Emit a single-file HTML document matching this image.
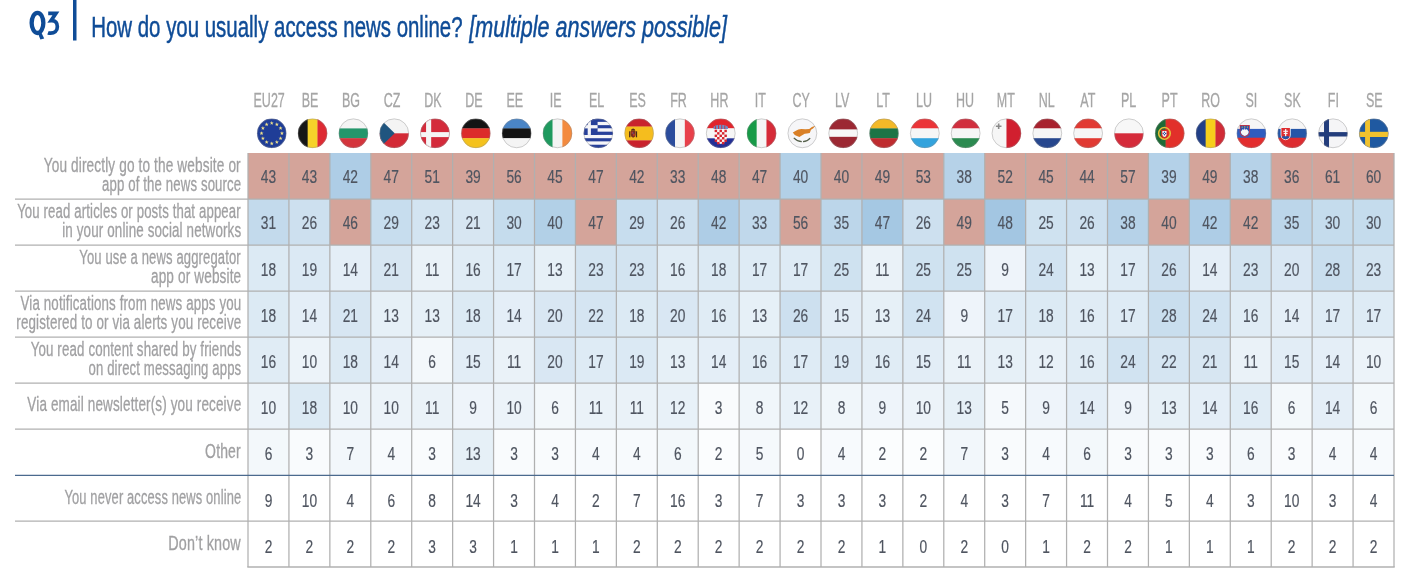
<!DOCTYPE html>
<html><head><meta charset="utf-8"><style>
html,body{margin:0;padding:0;background:#fff;}
body{width:1413px;height:576px;overflow:hidden;position:relative;font-family:"Liberation Sans", sans-serif;}
svg{position:absolute;left:0;top:0;will-change:transform;}
</style></head><body>
<svg width="1413" height="576" viewBox="0 0 1413 576" font-family='"Liberation Sans", sans-serif'>

<defs><clipPath id="fc"><circle cx="0" cy="0" r="14.7"/></clipPath></defs>
<ellipse cx="37.5" cy="22.9" rx="5.85" ry="10.1" fill="none" stroke="#0f4c97" stroke-width="4.3"/>
<path d="M37.6,32.6 L41.2,32.2 L44.2,38.4 L40.4,39.4 Z" fill="#0f4c97"/>
<path d="M48.2,13.45 H55.9 L51.0,20.7 C55.9,20.3 57.35,23.4 57.35,26.7 C57.35,31.2 54.3,33.1 50.6,33.1 C49.6,33.1 48.7,33.0 48.0,32.7" fill="none" stroke="#0f4c97" stroke-width="3.7" stroke-linejoin="miter" stroke-miterlimit="6"/>
<rect x="73" y="0" width="3.5" height="40.5" fill="#0f4c97"/>
<text transform="translate(91.2,37.4) scale(0.6905,1)" font-size="29.6" fill="#0f4c97" stroke="#0f4c97" stroke-width="0.5">How do you usually access news online?</text>
<text transform="translate(469.3,37.4) scale(0.729,1)" font-size="29.6" font-style="italic" fill="#0f4c97" stroke="#0f4c97" stroke-width="0.5">[multiple answers possible]</text>
<rect x="248.00" y="153.00" width="40.98" height="46.05" fill="#d4a49a"/>
<rect x="288.93" y="153.00" width="40.98" height="46.05" fill="#d4a49a"/>
<rect x="329.86" y="153.00" width="40.98" height="46.05" fill="#aecde6"/>
<rect x="370.79" y="153.00" width="40.98" height="46.05" fill="#d4a49a"/>
<rect x="411.71" y="153.00" width="40.98" height="46.05" fill="#d4a49a"/>
<rect x="452.64" y="153.00" width="40.98" height="46.05" fill="#d4a49a"/>
<rect x="493.57" y="153.00" width="40.98" height="46.05" fill="#d4a49a"/>
<rect x="534.50" y="153.00" width="40.98" height="46.05" fill="#d4a49a"/>
<rect x="575.43" y="153.00" width="40.98" height="46.05" fill="#d4a49a"/>
<rect x="616.36" y="153.00" width="40.98" height="46.05" fill="#d4a49a"/>
<rect x="657.29" y="153.00" width="40.98" height="46.05" fill="#d4a49a"/>
<rect x="698.21" y="153.00" width="40.98" height="46.05" fill="#d4a49a"/>
<rect x="739.14" y="153.00" width="40.98" height="46.05" fill="#d4a49a"/>
<rect x="780.07" y="153.00" width="40.98" height="46.05" fill="#b2d0e7"/>
<rect x="821.00" y="153.00" width="40.98" height="46.05" fill="#d4a49a"/>
<rect x="861.93" y="153.00" width="40.98" height="46.05" fill="#d4a49a"/>
<rect x="902.86" y="153.00" width="40.98" height="46.05" fill="#d4a49a"/>
<rect x="943.79" y="153.00" width="40.98" height="46.05" fill="#b6d2e8"/>
<rect x="984.71" y="153.00" width="40.98" height="46.05" fill="#d4a49a"/>
<rect x="1025.64" y="153.00" width="40.98" height="46.05" fill="#d4a49a"/>
<rect x="1066.57" y="153.00" width="40.98" height="46.05" fill="#d4a49a"/>
<rect x="1107.50" y="153.00" width="40.98" height="46.05" fill="#d4a49a"/>
<rect x="1148.43" y="153.00" width="40.98" height="46.05" fill="#b4d1e8"/>
<rect x="1189.36" y="153.00" width="40.98" height="46.05" fill="#d4a49a"/>
<rect x="1230.29" y="153.00" width="40.98" height="46.05" fill="#b6d2e8"/>
<rect x="1271.21" y="153.00" width="40.98" height="46.05" fill="#d4a49a"/>
<rect x="1312.14" y="153.00" width="40.98" height="46.05" fill="#d4a49a"/>
<rect x="1353.07" y="153.00" width="40.98" height="46.05" fill="#d4a49a"/>
<rect x="248.00" y="199.00" width="40.98" height="46.05" fill="#c3daec"/>
<rect x="288.93" y="199.00" width="40.98" height="46.05" fill="#cde0ef"/>
<rect x="329.86" y="199.00" width="40.98" height="46.05" fill="#d4a49a"/>
<rect x="370.79" y="199.00" width="40.98" height="46.05" fill="#c7ddee"/>
<rect x="411.71" y="199.00" width="40.98" height="46.05" fill="#d3e4f1"/>
<rect x="452.64" y="199.00" width="40.98" height="46.05" fill="#d7e6f2"/>
<rect x="493.57" y="199.00" width="40.98" height="46.05" fill="#c5dced"/>
<rect x="534.50" y="199.00" width="40.98" height="46.05" fill="#b2d0e7"/>
<rect x="575.43" y="199.00" width="40.98" height="46.05" fill="#d4a49a"/>
<rect x="616.36" y="199.00" width="40.98" height="46.05" fill="#c7ddee"/>
<rect x="657.29" y="199.00" width="40.98" height="46.05" fill="#cde0ef"/>
<rect x="698.21" y="199.00" width="40.98" height="46.05" fill="#aecde6"/>
<rect x="739.14" y="199.00" width="40.98" height="46.05" fill="#c0d8eb"/>
<rect x="780.07" y="199.00" width="40.98" height="46.05" fill="#d4a49a"/>
<rect x="821.00" y="199.00" width="40.98" height="46.05" fill="#bcd6ea"/>
<rect x="861.93" y="199.00" width="40.98" height="46.05" fill="#a5c8e3"/>
<rect x="902.86" y="199.00" width="40.98" height="46.05" fill="#cde0ef"/>
<rect x="943.79" y="199.00" width="40.98" height="46.05" fill="#d4a49a"/>
<rect x="984.71" y="199.00" width="40.98" height="46.05" fill="#a3c6e2"/>
<rect x="1025.64" y="199.00" width="40.98" height="46.05" fill="#cfe2f0"/>
<rect x="1066.57" y="199.00" width="40.98" height="46.05" fill="#cde0ef"/>
<rect x="1107.50" y="199.00" width="40.98" height="46.05" fill="#b6d2e8"/>
<rect x="1148.43" y="199.00" width="40.98" height="46.05" fill="#d4a49a"/>
<rect x="1189.36" y="199.00" width="40.98" height="46.05" fill="#aecde6"/>
<rect x="1230.29" y="199.00" width="40.98" height="46.05" fill="#d4a49a"/>
<rect x="1271.21" y="199.00" width="40.98" height="46.05" fill="#bcd6ea"/>
<rect x="1312.14" y="199.00" width="40.98" height="46.05" fill="#c5dced"/>
<rect x="1353.07" y="199.00" width="40.98" height="46.05" fill="#c5dced"/>
<rect x="248.00" y="245.00" width="40.98" height="46.05" fill="#dceaf4"/>
<rect x="288.93" y="245.00" width="40.98" height="46.05" fill="#dbe9f4"/>
<rect x="329.86" y="245.00" width="40.98" height="46.05" fill="#e4eef7"/>
<rect x="370.79" y="245.00" width="40.98" height="46.05" fill="#d7e6f2"/>
<rect x="411.71" y="245.00" width="40.98" height="46.05" fill="#eaf2f8"/>
<rect x="452.64" y="245.00" width="40.98" height="46.05" fill="#e0ecf5"/>
<rect x="493.57" y="245.00" width="40.98" height="46.05" fill="#deebf5"/>
<rect x="534.50" y="245.00" width="40.98" height="46.05" fill="#e6f0f7"/>
<rect x="575.43" y="245.00" width="40.98" height="46.05" fill="#d3e4f1"/>
<rect x="616.36" y="245.00" width="40.98" height="46.05" fill="#d3e4f1"/>
<rect x="657.29" y="245.00" width="40.98" height="46.05" fill="#e0ecf5"/>
<rect x="698.21" y="245.00" width="40.98" height="46.05" fill="#dceaf4"/>
<rect x="739.14" y="245.00" width="40.98" height="46.05" fill="#deebf5"/>
<rect x="780.07" y="245.00" width="40.98" height="46.05" fill="#deebf5"/>
<rect x="821.00" y="245.00" width="40.98" height="46.05" fill="#cfe2f0"/>
<rect x="861.93" y="245.00" width="40.98" height="46.05" fill="#eaf2f8"/>
<rect x="902.86" y="245.00" width="40.98" height="46.05" fill="#cfe2f0"/>
<rect x="943.79" y="245.00" width="40.98" height="46.05" fill="#cfe2f0"/>
<rect x="984.71" y="245.00" width="40.98" height="46.05" fill="#eef4fa"/>
<rect x="1025.64" y="245.00" width="40.98" height="46.05" fill="#d1e3f1"/>
<rect x="1066.57" y="245.00" width="40.98" height="46.05" fill="#e6f0f7"/>
<rect x="1107.50" y="245.00" width="40.98" height="46.05" fill="#deebf5"/>
<rect x="1148.43" y="245.00" width="40.98" height="46.05" fill="#cde0ef"/>
<rect x="1189.36" y="245.00" width="40.98" height="46.05" fill="#e4eef7"/>
<rect x="1230.29" y="245.00" width="40.98" height="46.05" fill="#d3e4f1"/>
<rect x="1271.21" y="245.00" width="40.98" height="46.05" fill="#d9e7f3"/>
<rect x="1312.14" y="245.00" width="40.98" height="46.05" fill="#c9deee"/>
<rect x="1353.07" y="245.00" width="40.98" height="46.05" fill="#d3e4f1"/>
<rect x="248.00" y="291.00" width="40.98" height="46.05" fill="#dceaf4"/>
<rect x="288.93" y="291.00" width="40.98" height="46.05" fill="#e4eef7"/>
<rect x="329.86" y="291.00" width="40.98" height="46.05" fill="#d7e6f2"/>
<rect x="370.79" y="291.00" width="40.98" height="46.05" fill="#e6f0f7"/>
<rect x="411.71" y="291.00" width="40.98" height="46.05" fill="#e6f0f7"/>
<rect x="452.64" y="291.00" width="40.98" height="46.05" fill="#dceaf4"/>
<rect x="493.57" y="291.00" width="40.98" height="46.05" fill="#e4eef7"/>
<rect x="534.50" y="291.00" width="40.98" height="46.05" fill="#d9e7f3"/>
<rect x="575.43" y="291.00" width="40.98" height="46.05" fill="#d5e5f2"/>
<rect x="616.36" y="291.00" width="40.98" height="46.05" fill="#dceaf4"/>
<rect x="657.29" y="291.00" width="40.98" height="46.05" fill="#d9e7f3"/>
<rect x="698.21" y="291.00" width="40.98" height="46.05" fill="#e0ecf5"/>
<rect x="739.14" y="291.00" width="40.98" height="46.05" fill="#e6f0f7"/>
<rect x="780.07" y="291.00" width="40.98" height="46.05" fill="#cde0ef"/>
<rect x="821.00" y="291.00" width="40.98" height="46.05" fill="#e2edf6"/>
<rect x="861.93" y="291.00" width="40.98" height="46.05" fill="#e6f0f7"/>
<rect x="902.86" y="291.00" width="40.98" height="46.05" fill="#d1e3f1"/>
<rect x="943.79" y="291.00" width="40.98" height="46.05" fill="#eef4fa"/>
<rect x="984.71" y="291.00" width="40.98" height="46.05" fill="#deebf5"/>
<rect x="1025.64" y="291.00" width="40.98" height="46.05" fill="#dceaf4"/>
<rect x="1066.57" y="291.00" width="40.98" height="46.05" fill="#e0ecf5"/>
<rect x="1107.50" y="291.00" width="40.98" height="46.05" fill="#deebf5"/>
<rect x="1148.43" y="291.00" width="40.98" height="46.05" fill="#c9deee"/>
<rect x="1189.36" y="291.00" width="40.98" height="46.05" fill="#d1e3f1"/>
<rect x="1230.29" y="291.00" width="40.98" height="46.05" fill="#e0ecf5"/>
<rect x="1271.21" y="291.00" width="40.98" height="46.05" fill="#e4eef7"/>
<rect x="1312.14" y="291.00" width="40.98" height="46.05" fill="#deebf5"/>
<rect x="1353.07" y="291.00" width="40.98" height="46.05" fill="#deebf5"/>
<rect x="248.00" y="337.00" width="40.98" height="46.05" fill="#e0ecf5"/>
<rect x="288.93" y="337.00" width="40.98" height="46.05" fill="#ecf3f9"/>
<rect x="329.86" y="337.00" width="40.98" height="46.05" fill="#dceaf4"/>
<rect x="370.79" y="337.00" width="40.98" height="46.05" fill="#e4eef7"/>
<rect x="411.71" y="337.00" width="40.98" height="46.05" fill="#f3f8fb"/>
<rect x="452.64" y="337.00" width="40.98" height="46.05" fill="#e2edf6"/>
<rect x="493.57" y="337.00" width="40.98" height="46.05" fill="#eaf2f8"/>
<rect x="534.50" y="337.00" width="40.98" height="46.05" fill="#d9e7f3"/>
<rect x="575.43" y="337.00" width="40.98" height="46.05" fill="#deebf5"/>
<rect x="616.36" y="337.00" width="40.98" height="46.05" fill="#dbe9f4"/>
<rect x="657.29" y="337.00" width="40.98" height="46.05" fill="#e6f0f7"/>
<rect x="698.21" y="337.00" width="40.98" height="46.05" fill="#e4eef7"/>
<rect x="739.14" y="337.00" width="40.98" height="46.05" fill="#e0ecf5"/>
<rect x="780.07" y="337.00" width="40.98" height="46.05" fill="#deebf5"/>
<rect x="821.00" y="337.00" width="40.98" height="46.05" fill="#dbe9f4"/>
<rect x="861.93" y="337.00" width="40.98" height="46.05" fill="#e0ecf5"/>
<rect x="902.86" y="337.00" width="40.98" height="46.05" fill="#e2edf6"/>
<rect x="943.79" y="337.00" width="40.98" height="46.05" fill="#eaf2f8"/>
<rect x="984.71" y="337.00" width="40.98" height="46.05" fill="#e6f0f7"/>
<rect x="1025.64" y="337.00" width="40.98" height="46.05" fill="#e8f1f8"/>
<rect x="1066.57" y="337.00" width="40.98" height="46.05" fill="#e0ecf5"/>
<rect x="1107.50" y="337.00" width="40.98" height="46.05" fill="#d1e3f1"/>
<rect x="1148.43" y="337.00" width="40.98" height="46.05" fill="#d5e5f2"/>
<rect x="1189.36" y="337.00" width="40.98" height="46.05" fill="#d7e6f2"/>
<rect x="1230.29" y="337.00" width="40.98" height="46.05" fill="#eaf2f8"/>
<rect x="1271.21" y="337.00" width="40.98" height="46.05" fill="#e2edf6"/>
<rect x="1312.14" y="337.00" width="40.98" height="46.05" fill="#e4eef7"/>
<rect x="1353.07" y="337.00" width="40.98" height="46.05" fill="#ecf3f9"/>
<rect x="248.00" y="383.00" width="40.98" height="46.05" fill="#ecf3f9"/>
<rect x="288.93" y="383.00" width="40.98" height="46.05" fill="#dceaf4"/>
<rect x="329.86" y="383.00" width="40.98" height="46.05" fill="#ecf3f9"/>
<rect x="370.79" y="383.00" width="40.98" height="46.05" fill="#ecf3f9"/>
<rect x="411.71" y="383.00" width="40.98" height="46.05" fill="#eaf2f8"/>
<rect x="452.64" y="383.00" width="40.98" height="46.05" fill="#eef4fa"/>
<rect x="493.57" y="383.00" width="40.98" height="46.05" fill="#ecf3f9"/>
<rect x="534.50" y="383.00" width="40.98" height="46.05" fill="#f3f8fb"/>
<rect x="575.43" y="383.00" width="40.98" height="46.05" fill="#eaf2f8"/>
<rect x="616.36" y="383.00" width="40.98" height="46.05" fill="#eaf2f8"/>
<rect x="657.29" y="383.00" width="40.98" height="46.05" fill="#e8f1f8"/>
<rect x="698.21" y="383.00" width="40.98" height="46.05" fill="#f9fbfd"/>
<rect x="739.14" y="383.00" width="40.98" height="46.05" fill="#f0f6fa"/>
<rect x="780.07" y="383.00" width="40.98" height="46.05" fill="#e8f1f8"/>
<rect x="821.00" y="383.00" width="40.98" height="46.05" fill="#f0f6fa"/>
<rect x="861.93" y="383.00" width="40.98" height="46.05" fill="#eef4fa"/>
<rect x="902.86" y="383.00" width="40.98" height="46.05" fill="#ecf3f9"/>
<rect x="943.79" y="383.00" width="40.98" height="46.05" fill="#e6f0f7"/>
<rect x="984.71" y="383.00" width="40.98" height="46.05" fill="#f5f9fc"/>
<rect x="1025.64" y="383.00" width="40.98" height="46.05" fill="#eef4fa"/>
<rect x="1066.57" y="383.00" width="40.98" height="46.05" fill="#e4eef7"/>
<rect x="1107.50" y="383.00" width="40.98" height="46.05" fill="#eef4fa"/>
<rect x="1148.43" y="383.00" width="40.98" height="46.05" fill="#e6f0f7"/>
<rect x="1189.36" y="383.00" width="40.98" height="46.05" fill="#e4eef7"/>
<rect x="1230.29" y="383.00" width="40.98" height="46.05" fill="#e0ecf5"/>
<rect x="1271.21" y="383.00" width="40.98" height="46.05" fill="#f3f8fb"/>
<rect x="1312.14" y="383.00" width="40.98" height="46.05" fill="#e4eef7"/>
<rect x="1353.07" y="383.00" width="40.98" height="46.05" fill="#f3f8fb"/>
<rect x="248.00" y="429.00" width="40.98" height="46.05" fill="#f3f8fb"/>
<rect x="288.93" y="429.00" width="40.98" height="46.05" fill="#f9fbfd"/>
<rect x="329.86" y="429.00" width="40.98" height="46.05" fill="#f2f7fb"/>
<rect x="370.79" y="429.00" width="40.98" height="46.05" fill="#f7fafd"/>
<rect x="411.71" y="429.00" width="40.98" height="46.05" fill="#f9fbfd"/>
<rect x="452.64" y="429.00" width="40.98" height="46.05" fill="#e6f0f7"/>
<rect x="493.57" y="429.00" width="40.98" height="46.05" fill="#f9fbfd"/>
<rect x="534.50" y="429.00" width="40.98" height="46.05" fill="#f9fbfd"/>
<rect x="575.43" y="429.00" width="40.98" height="46.05" fill="#f7fafd"/>
<rect x="616.36" y="429.00" width="40.98" height="46.05" fill="#f7fafd"/>
<rect x="657.29" y="429.00" width="40.98" height="46.05" fill="#f3f8fb"/>
<rect x="698.21" y="429.00" width="40.98" height="46.05" fill="#fbfdfe"/>
<rect x="739.14" y="429.00" width="40.98" height="46.05" fill="#f5f9fc"/>
<rect x="780.07" y="429.00" width="40.98" height="46.05" fill="#ffffff"/>
<rect x="821.00" y="429.00" width="40.98" height="46.05" fill="#f7fafd"/>
<rect x="861.93" y="429.00" width="40.98" height="46.05" fill="#fbfdfe"/>
<rect x="902.86" y="429.00" width="40.98" height="46.05" fill="#fbfdfe"/>
<rect x="943.79" y="429.00" width="40.98" height="46.05" fill="#f2f7fb"/>
<rect x="984.71" y="429.00" width="40.98" height="46.05" fill="#f9fbfd"/>
<rect x="1025.64" y="429.00" width="40.98" height="46.05" fill="#f7fafd"/>
<rect x="1066.57" y="429.00" width="40.98" height="46.05" fill="#f3f8fb"/>
<rect x="1107.50" y="429.00" width="40.98" height="46.05" fill="#f9fbfd"/>
<rect x="1148.43" y="429.00" width="40.98" height="46.05" fill="#f9fbfd"/>
<rect x="1189.36" y="429.00" width="40.98" height="46.05" fill="#f9fbfd"/>
<rect x="1230.29" y="429.00" width="40.98" height="46.05" fill="#f3f8fb"/>
<rect x="1271.21" y="429.00" width="40.98" height="46.05" fill="#f9fbfd"/>
<rect x="1312.14" y="429.00" width="40.98" height="46.05" fill="#f7fafd"/>
<rect x="1353.07" y="429.00" width="40.98" height="46.05" fill="#f7fafd"/>
<line x1="248.00" y1="153.0" x2="248.00" y2="567.00" stroke="#b0b0b0" stroke-width="1.25"/>
<line x1="288.93" y1="153.0" x2="288.93" y2="567.00" stroke="#b0b0b0" stroke-width="1.25"/>
<line x1="329.86" y1="153.0" x2="329.86" y2="567.00" stroke="#b0b0b0" stroke-width="1.25"/>
<line x1="370.79" y1="153.0" x2="370.79" y2="567.00" stroke="#b0b0b0" stroke-width="1.25"/>
<line x1="411.71" y1="153.0" x2="411.71" y2="567.00" stroke="#b0b0b0" stroke-width="1.25"/>
<line x1="452.64" y1="153.0" x2="452.64" y2="567.00" stroke="#b0b0b0" stroke-width="1.25"/>
<line x1="493.57" y1="153.0" x2="493.57" y2="567.00" stroke="#b0b0b0" stroke-width="1.25"/>
<line x1="534.50" y1="153.0" x2="534.50" y2="567.00" stroke="#b0b0b0" stroke-width="1.25"/>
<line x1="575.43" y1="153.0" x2="575.43" y2="567.00" stroke="#b0b0b0" stroke-width="1.25"/>
<line x1="616.36" y1="153.0" x2="616.36" y2="567.00" stroke="#b0b0b0" stroke-width="1.25"/>
<line x1="657.29" y1="153.0" x2="657.29" y2="567.00" stroke="#b0b0b0" stroke-width="1.25"/>
<line x1="698.21" y1="153.0" x2="698.21" y2="567.00" stroke="#b0b0b0" stroke-width="1.25"/>
<line x1="739.14" y1="153.0" x2="739.14" y2="567.00" stroke="#b0b0b0" stroke-width="1.25"/>
<line x1="780.07" y1="153.0" x2="780.07" y2="567.00" stroke="#b0b0b0" stroke-width="1.25"/>
<line x1="821.00" y1="153.0" x2="821.00" y2="567.00" stroke="#b0b0b0" stroke-width="1.25"/>
<line x1="861.93" y1="153.0" x2="861.93" y2="567.00" stroke="#b0b0b0" stroke-width="1.25"/>
<line x1="902.86" y1="153.0" x2="902.86" y2="567.00" stroke="#b0b0b0" stroke-width="1.25"/>
<line x1="943.79" y1="153.0" x2="943.79" y2="567.00" stroke="#b0b0b0" stroke-width="1.25"/>
<line x1="984.71" y1="153.0" x2="984.71" y2="567.00" stroke="#b0b0b0" stroke-width="1.25"/>
<line x1="1025.64" y1="153.0" x2="1025.64" y2="567.00" stroke="#b0b0b0" stroke-width="1.25"/>
<line x1="1066.57" y1="153.0" x2="1066.57" y2="567.00" stroke="#b0b0b0" stroke-width="1.25"/>
<line x1="1107.50" y1="153.0" x2="1107.50" y2="567.00" stroke="#b0b0b0" stroke-width="1.25"/>
<line x1="1148.43" y1="153.0" x2="1148.43" y2="567.00" stroke="#b0b0b0" stroke-width="1.25"/>
<line x1="1189.36" y1="153.0" x2="1189.36" y2="567.00" stroke="#b0b0b0" stroke-width="1.25"/>
<line x1="1230.29" y1="153.0" x2="1230.29" y2="567.00" stroke="#b0b0b0" stroke-width="1.25"/>
<line x1="1271.21" y1="153.0" x2="1271.21" y2="567.00" stroke="#b0b0b0" stroke-width="1.25"/>
<line x1="1312.14" y1="153.0" x2="1312.14" y2="567.00" stroke="#b0b0b0" stroke-width="1.25"/>
<line x1="1353.07" y1="153.0" x2="1353.07" y2="567.00" stroke="#b0b0b0" stroke-width="1.25"/>
<line x1="1394.00" y1="153.0" x2="1394.00" y2="567.00" stroke="#b0b0b0" stroke-width="1.25"/>
<line x1="15" y1="199.10" x2="1394.0" y2="199.10" stroke="#b0b0b0" stroke-width="1.4"/>
<line x1="15" y1="245.10" x2="1394.0" y2="245.10" stroke="#b0b0b0" stroke-width="1.4"/>
<line x1="15" y1="291.10" x2="1394.0" y2="291.10" stroke="#b0b0b0" stroke-width="1.4"/>
<line x1="15" y1="337.10" x2="1394.0" y2="337.10" stroke="#b0b0b0" stroke-width="1.4"/>
<line x1="15" y1="383.10" x2="1394.0" y2="383.10" stroke="#b0b0b0" stroke-width="1.4"/>
<line x1="15" y1="429.10" x2="1394.0" y2="429.10" stroke="#b0b0b0" stroke-width="1.4"/>
<line x1="15" y1="475.35" x2="1394.0" y2="475.35" stroke="#4b6a8e" stroke-width="1.4"/>
<line x1="15" y1="521.10" x2="1394.0" y2="521.10" stroke="#b0b0b0" stroke-width="1.4"/>
<line x1="247.3" y1="567.00" x2="1394.7" y2="567.00" stroke="#b0b0b0" stroke-width="1.4"/>
<text transform="translate(268.46,183.15) scale(0.725,1)" text-anchor="middle" font-size="19" fill="#4f5560" stroke="#4f5560" stroke-width="0.2">43</text>
<text transform="translate(309.39,183.15) scale(0.725,1)" text-anchor="middle" font-size="19" fill="#4f5560" stroke="#4f5560" stroke-width="0.2">43</text>
<text transform="translate(350.32,183.15) scale(0.725,1)" text-anchor="middle" font-size="19" fill="#4f5560" stroke="#4f5560" stroke-width="0.2">42</text>
<text transform="translate(391.25,183.15) scale(0.725,1)" text-anchor="middle" font-size="19" fill="#4f5560" stroke="#4f5560" stroke-width="0.2">47</text>
<text transform="translate(432.18,183.15) scale(0.725,1)" text-anchor="middle" font-size="19" fill="#4f5560" stroke="#4f5560" stroke-width="0.2">51</text>
<text transform="translate(473.11,183.15) scale(0.725,1)" text-anchor="middle" font-size="19" fill="#4f5560" stroke="#4f5560" stroke-width="0.2">39</text>
<text transform="translate(514.04,183.15) scale(0.725,1)" text-anchor="middle" font-size="19" fill="#4f5560" stroke="#4f5560" stroke-width="0.2">56</text>
<text transform="translate(554.96,183.15) scale(0.725,1)" text-anchor="middle" font-size="19" fill="#4f5560" stroke="#4f5560" stroke-width="0.2">45</text>
<text transform="translate(595.89,183.15) scale(0.725,1)" text-anchor="middle" font-size="19" fill="#4f5560" stroke="#4f5560" stroke-width="0.2">47</text>
<text transform="translate(636.82,183.15) scale(0.725,1)" text-anchor="middle" font-size="19" fill="#4f5560" stroke="#4f5560" stroke-width="0.2">42</text>
<text transform="translate(677.75,183.15) scale(0.725,1)" text-anchor="middle" font-size="19" fill="#4f5560" stroke="#4f5560" stroke-width="0.2">33</text>
<text transform="translate(718.68,183.15) scale(0.725,1)" text-anchor="middle" font-size="19" fill="#4f5560" stroke="#4f5560" stroke-width="0.2">48</text>
<text transform="translate(759.61,183.15) scale(0.725,1)" text-anchor="middle" font-size="19" fill="#4f5560" stroke="#4f5560" stroke-width="0.2">47</text>
<text transform="translate(800.54,183.15) scale(0.725,1)" text-anchor="middle" font-size="19" fill="#4f5560" stroke="#4f5560" stroke-width="0.2">40</text>
<text transform="translate(841.46,183.15) scale(0.725,1)" text-anchor="middle" font-size="19" fill="#4f5560" stroke="#4f5560" stroke-width="0.2">40</text>
<text transform="translate(882.39,183.15) scale(0.725,1)" text-anchor="middle" font-size="19" fill="#4f5560" stroke="#4f5560" stroke-width="0.2">49</text>
<text transform="translate(923.32,183.15) scale(0.725,1)" text-anchor="middle" font-size="19" fill="#4f5560" stroke="#4f5560" stroke-width="0.2">53</text>
<text transform="translate(964.25,183.15) scale(0.725,1)" text-anchor="middle" font-size="19" fill="#4f5560" stroke="#4f5560" stroke-width="0.2">38</text>
<text transform="translate(1005.18,183.15) scale(0.725,1)" text-anchor="middle" font-size="19" fill="#4f5560" stroke="#4f5560" stroke-width="0.2">52</text>
<text transform="translate(1046.11,183.15) scale(0.725,1)" text-anchor="middle" font-size="19" fill="#4f5560" stroke="#4f5560" stroke-width="0.2">45</text>
<text transform="translate(1087.04,183.15) scale(0.725,1)" text-anchor="middle" font-size="19" fill="#4f5560" stroke="#4f5560" stroke-width="0.2">44</text>
<text transform="translate(1127.96,183.15) scale(0.725,1)" text-anchor="middle" font-size="19" fill="#4f5560" stroke="#4f5560" stroke-width="0.2">57</text>
<text transform="translate(1168.89,183.15) scale(0.725,1)" text-anchor="middle" font-size="19" fill="#4f5560" stroke="#4f5560" stroke-width="0.2">39</text>
<text transform="translate(1209.82,183.15) scale(0.725,1)" text-anchor="middle" font-size="19" fill="#4f5560" stroke="#4f5560" stroke-width="0.2">49</text>
<text transform="translate(1250.75,183.15) scale(0.725,1)" text-anchor="middle" font-size="19" fill="#4f5560" stroke="#4f5560" stroke-width="0.2">38</text>
<text transform="translate(1291.68,183.15) scale(0.725,1)" text-anchor="middle" font-size="19" fill="#4f5560" stroke="#4f5560" stroke-width="0.2">36</text>
<text transform="translate(1332.61,183.15) scale(0.725,1)" text-anchor="middle" font-size="19" fill="#4f5560" stroke="#4f5560" stroke-width="0.2">61</text>
<text transform="translate(1373.54,183.15) scale(0.725,1)" text-anchor="middle" font-size="19" fill="#4f5560" stroke="#4f5560" stroke-width="0.2">60</text>
<text transform="translate(268.46,229.37) scale(0.725,1)" text-anchor="middle" font-size="19" fill="#4f5560" stroke="#4f5560" stroke-width="0.2">31</text>
<text transform="translate(309.39,229.37) scale(0.725,1)" text-anchor="middle" font-size="19" fill="#4f5560" stroke="#4f5560" stroke-width="0.2">26</text>
<text transform="translate(350.32,229.37) scale(0.725,1)" text-anchor="middle" font-size="19" fill="#4f5560" stroke="#4f5560" stroke-width="0.2">46</text>
<text transform="translate(391.25,229.37) scale(0.725,1)" text-anchor="middle" font-size="19" fill="#4f5560" stroke="#4f5560" stroke-width="0.2">29</text>
<text transform="translate(432.18,229.37) scale(0.725,1)" text-anchor="middle" font-size="19" fill="#4f5560" stroke="#4f5560" stroke-width="0.2">23</text>
<text transform="translate(473.11,229.37) scale(0.725,1)" text-anchor="middle" font-size="19" fill="#4f5560" stroke="#4f5560" stroke-width="0.2">21</text>
<text transform="translate(514.04,229.37) scale(0.725,1)" text-anchor="middle" font-size="19" fill="#4f5560" stroke="#4f5560" stroke-width="0.2">30</text>
<text transform="translate(554.96,229.37) scale(0.725,1)" text-anchor="middle" font-size="19" fill="#4f5560" stroke="#4f5560" stroke-width="0.2">40</text>
<text transform="translate(595.89,229.37) scale(0.725,1)" text-anchor="middle" font-size="19" fill="#4f5560" stroke="#4f5560" stroke-width="0.2">47</text>
<text transform="translate(636.82,229.37) scale(0.725,1)" text-anchor="middle" font-size="19" fill="#4f5560" stroke="#4f5560" stroke-width="0.2">29</text>
<text transform="translate(677.75,229.37) scale(0.725,1)" text-anchor="middle" font-size="19" fill="#4f5560" stroke="#4f5560" stroke-width="0.2">26</text>
<text transform="translate(718.68,229.37) scale(0.725,1)" text-anchor="middle" font-size="19" fill="#4f5560" stroke="#4f5560" stroke-width="0.2">42</text>
<text transform="translate(759.61,229.37) scale(0.725,1)" text-anchor="middle" font-size="19" fill="#4f5560" stroke="#4f5560" stroke-width="0.2">33</text>
<text transform="translate(800.54,229.37) scale(0.725,1)" text-anchor="middle" font-size="19" fill="#4f5560" stroke="#4f5560" stroke-width="0.2">56</text>
<text transform="translate(841.46,229.37) scale(0.725,1)" text-anchor="middle" font-size="19" fill="#4f5560" stroke="#4f5560" stroke-width="0.2">35</text>
<text transform="translate(882.39,229.37) scale(0.725,1)" text-anchor="middle" font-size="19" fill="#4f5560" stroke="#4f5560" stroke-width="0.2">47</text>
<text transform="translate(923.32,229.37) scale(0.725,1)" text-anchor="middle" font-size="19" fill="#4f5560" stroke="#4f5560" stroke-width="0.2">26</text>
<text transform="translate(964.25,229.37) scale(0.725,1)" text-anchor="middle" font-size="19" fill="#4f5560" stroke="#4f5560" stroke-width="0.2">49</text>
<text transform="translate(1005.18,229.37) scale(0.725,1)" text-anchor="middle" font-size="19" fill="#4f5560" stroke="#4f5560" stroke-width="0.2">48</text>
<text transform="translate(1046.11,229.37) scale(0.725,1)" text-anchor="middle" font-size="19" fill="#4f5560" stroke="#4f5560" stroke-width="0.2">25</text>
<text transform="translate(1087.04,229.37) scale(0.725,1)" text-anchor="middle" font-size="19" fill="#4f5560" stroke="#4f5560" stroke-width="0.2">26</text>
<text transform="translate(1127.96,229.37) scale(0.725,1)" text-anchor="middle" font-size="19" fill="#4f5560" stroke="#4f5560" stroke-width="0.2">38</text>
<text transform="translate(1168.89,229.37) scale(0.725,1)" text-anchor="middle" font-size="19" fill="#4f5560" stroke="#4f5560" stroke-width="0.2">40</text>
<text transform="translate(1209.82,229.37) scale(0.725,1)" text-anchor="middle" font-size="19" fill="#4f5560" stroke="#4f5560" stroke-width="0.2">42</text>
<text transform="translate(1250.75,229.37) scale(0.725,1)" text-anchor="middle" font-size="19" fill="#4f5560" stroke="#4f5560" stroke-width="0.2">42</text>
<text transform="translate(1291.68,229.37) scale(0.725,1)" text-anchor="middle" font-size="19" fill="#4f5560" stroke="#4f5560" stroke-width="0.2">35</text>
<text transform="translate(1332.61,229.37) scale(0.725,1)" text-anchor="middle" font-size="19" fill="#4f5560" stroke="#4f5560" stroke-width="0.2">30</text>
<text transform="translate(1373.54,229.37) scale(0.725,1)" text-anchor="middle" font-size="19" fill="#4f5560" stroke="#4f5560" stroke-width="0.2">30</text>
<text transform="translate(268.46,275.60) scale(0.725,1)" text-anchor="middle" font-size="19" fill="#4f5560" stroke="#4f5560" stroke-width="0.2">18</text>
<text transform="translate(309.39,275.60) scale(0.725,1)" text-anchor="middle" font-size="19" fill="#4f5560" stroke="#4f5560" stroke-width="0.2">19</text>
<text transform="translate(350.32,275.60) scale(0.725,1)" text-anchor="middle" font-size="19" fill="#4f5560" stroke="#4f5560" stroke-width="0.2">14</text>
<text transform="translate(391.25,275.60) scale(0.725,1)" text-anchor="middle" font-size="19" fill="#4f5560" stroke="#4f5560" stroke-width="0.2">21</text>
<text transform="translate(432.18,275.60) scale(0.725,1)" text-anchor="middle" font-size="19" fill="#4f5560" stroke="#4f5560" stroke-width="0.2">11</text>
<text transform="translate(473.11,275.60) scale(0.725,1)" text-anchor="middle" font-size="19" fill="#4f5560" stroke="#4f5560" stroke-width="0.2">16</text>
<text transform="translate(514.04,275.60) scale(0.725,1)" text-anchor="middle" font-size="19" fill="#4f5560" stroke="#4f5560" stroke-width="0.2">17</text>
<text transform="translate(554.96,275.60) scale(0.725,1)" text-anchor="middle" font-size="19" fill="#4f5560" stroke="#4f5560" stroke-width="0.2">13</text>
<text transform="translate(595.89,275.60) scale(0.725,1)" text-anchor="middle" font-size="19" fill="#4f5560" stroke="#4f5560" stroke-width="0.2">23</text>
<text transform="translate(636.82,275.60) scale(0.725,1)" text-anchor="middle" font-size="19" fill="#4f5560" stroke="#4f5560" stroke-width="0.2">23</text>
<text transform="translate(677.75,275.60) scale(0.725,1)" text-anchor="middle" font-size="19" fill="#4f5560" stroke="#4f5560" stroke-width="0.2">16</text>
<text transform="translate(718.68,275.60) scale(0.725,1)" text-anchor="middle" font-size="19" fill="#4f5560" stroke="#4f5560" stroke-width="0.2">18</text>
<text transform="translate(759.61,275.60) scale(0.725,1)" text-anchor="middle" font-size="19" fill="#4f5560" stroke="#4f5560" stroke-width="0.2">17</text>
<text transform="translate(800.54,275.60) scale(0.725,1)" text-anchor="middle" font-size="19" fill="#4f5560" stroke="#4f5560" stroke-width="0.2">17</text>
<text transform="translate(841.46,275.60) scale(0.725,1)" text-anchor="middle" font-size="19" fill="#4f5560" stroke="#4f5560" stroke-width="0.2">25</text>
<text transform="translate(882.39,275.60) scale(0.725,1)" text-anchor="middle" font-size="19" fill="#4f5560" stroke="#4f5560" stroke-width="0.2">11</text>
<text transform="translate(923.32,275.60) scale(0.725,1)" text-anchor="middle" font-size="19" fill="#4f5560" stroke="#4f5560" stroke-width="0.2">25</text>
<text transform="translate(964.25,275.60) scale(0.725,1)" text-anchor="middle" font-size="19" fill="#4f5560" stroke="#4f5560" stroke-width="0.2">25</text>
<text transform="translate(1005.18,275.60) scale(0.725,1)" text-anchor="middle" font-size="19" fill="#4f5560" stroke="#4f5560" stroke-width="0.2">9</text>
<text transform="translate(1046.11,275.60) scale(0.725,1)" text-anchor="middle" font-size="19" fill="#4f5560" stroke="#4f5560" stroke-width="0.2">24</text>
<text transform="translate(1087.04,275.60) scale(0.725,1)" text-anchor="middle" font-size="19" fill="#4f5560" stroke="#4f5560" stroke-width="0.2">13</text>
<text transform="translate(1127.96,275.60) scale(0.725,1)" text-anchor="middle" font-size="19" fill="#4f5560" stroke="#4f5560" stroke-width="0.2">17</text>
<text transform="translate(1168.89,275.60) scale(0.725,1)" text-anchor="middle" font-size="19" fill="#4f5560" stroke="#4f5560" stroke-width="0.2">26</text>
<text transform="translate(1209.82,275.60) scale(0.725,1)" text-anchor="middle" font-size="19" fill="#4f5560" stroke="#4f5560" stroke-width="0.2">14</text>
<text transform="translate(1250.75,275.60) scale(0.725,1)" text-anchor="middle" font-size="19" fill="#4f5560" stroke="#4f5560" stroke-width="0.2">23</text>
<text transform="translate(1291.68,275.60) scale(0.725,1)" text-anchor="middle" font-size="19" fill="#4f5560" stroke="#4f5560" stroke-width="0.2">20</text>
<text transform="translate(1332.61,275.60) scale(0.725,1)" text-anchor="middle" font-size="19" fill="#4f5560" stroke="#4f5560" stroke-width="0.2">28</text>
<text transform="translate(1373.54,275.60) scale(0.725,1)" text-anchor="middle" font-size="19" fill="#4f5560" stroke="#4f5560" stroke-width="0.2">23</text>
<text transform="translate(268.46,321.82) scale(0.725,1)" text-anchor="middle" font-size="19" fill="#4f5560" stroke="#4f5560" stroke-width="0.2">18</text>
<text transform="translate(309.39,321.82) scale(0.725,1)" text-anchor="middle" font-size="19" fill="#4f5560" stroke="#4f5560" stroke-width="0.2">14</text>
<text transform="translate(350.32,321.82) scale(0.725,1)" text-anchor="middle" font-size="19" fill="#4f5560" stroke="#4f5560" stroke-width="0.2">21</text>
<text transform="translate(391.25,321.82) scale(0.725,1)" text-anchor="middle" font-size="19" fill="#4f5560" stroke="#4f5560" stroke-width="0.2">13</text>
<text transform="translate(432.18,321.82) scale(0.725,1)" text-anchor="middle" font-size="19" fill="#4f5560" stroke="#4f5560" stroke-width="0.2">13</text>
<text transform="translate(473.11,321.82) scale(0.725,1)" text-anchor="middle" font-size="19" fill="#4f5560" stroke="#4f5560" stroke-width="0.2">18</text>
<text transform="translate(514.04,321.82) scale(0.725,1)" text-anchor="middle" font-size="19" fill="#4f5560" stroke="#4f5560" stroke-width="0.2">14</text>
<text transform="translate(554.96,321.82) scale(0.725,1)" text-anchor="middle" font-size="19" fill="#4f5560" stroke="#4f5560" stroke-width="0.2">20</text>
<text transform="translate(595.89,321.82) scale(0.725,1)" text-anchor="middle" font-size="19" fill="#4f5560" stroke="#4f5560" stroke-width="0.2">22</text>
<text transform="translate(636.82,321.82) scale(0.725,1)" text-anchor="middle" font-size="19" fill="#4f5560" stroke="#4f5560" stroke-width="0.2">18</text>
<text transform="translate(677.75,321.82) scale(0.725,1)" text-anchor="middle" font-size="19" fill="#4f5560" stroke="#4f5560" stroke-width="0.2">20</text>
<text transform="translate(718.68,321.82) scale(0.725,1)" text-anchor="middle" font-size="19" fill="#4f5560" stroke="#4f5560" stroke-width="0.2">16</text>
<text transform="translate(759.61,321.82) scale(0.725,1)" text-anchor="middle" font-size="19" fill="#4f5560" stroke="#4f5560" stroke-width="0.2">13</text>
<text transform="translate(800.54,321.82) scale(0.725,1)" text-anchor="middle" font-size="19" fill="#4f5560" stroke="#4f5560" stroke-width="0.2">26</text>
<text transform="translate(841.46,321.82) scale(0.725,1)" text-anchor="middle" font-size="19" fill="#4f5560" stroke="#4f5560" stroke-width="0.2">15</text>
<text transform="translate(882.39,321.82) scale(0.725,1)" text-anchor="middle" font-size="19" fill="#4f5560" stroke="#4f5560" stroke-width="0.2">13</text>
<text transform="translate(923.32,321.82) scale(0.725,1)" text-anchor="middle" font-size="19" fill="#4f5560" stroke="#4f5560" stroke-width="0.2">24</text>
<text transform="translate(964.25,321.82) scale(0.725,1)" text-anchor="middle" font-size="19" fill="#4f5560" stroke="#4f5560" stroke-width="0.2">9</text>
<text transform="translate(1005.18,321.82) scale(0.725,1)" text-anchor="middle" font-size="19" fill="#4f5560" stroke="#4f5560" stroke-width="0.2">17</text>
<text transform="translate(1046.11,321.82) scale(0.725,1)" text-anchor="middle" font-size="19" fill="#4f5560" stroke="#4f5560" stroke-width="0.2">18</text>
<text transform="translate(1087.04,321.82) scale(0.725,1)" text-anchor="middle" font-size="19" fill="#4f5560" stroke="#4f5560" stroke-width="0.2">16</text>
<text transform="translate(1127.96,321.82) scale(0.725,1)" text-anchor="middle" font-size="19" fill="#4f5560" stroke="#4f5560" stroke-width="0.2">17</text>
<text transform="translate(1168.89,321.82) scale(0.725,1)" text-anchor="middle" font-size="19" fill="#4f5560" stroke="#4f5560" stroke-width="0.2">28</text>
<text transform="translate(1209.82,321.82) scale(0.725,1)" text-anchor="middle" font-size="19" fill="#4f5560" stroke="#4f5560" stroke-width="0.2">24</text>
<text transform="translate(1250.75,321.82) scale(0.725,1)" text-anchor="middle" font-size="19" fill="#4f5560" stroke="#4f5560" stroke-width="0.2">16</text>
<text transform="translate(1291.68,321.82) scale(0.725,1)" text-anchor="middle" font-size="19" fill="#4f5560" stroke="#4f5560" stroke-width="0.2">14</text>
<text transform="translate(1332.61,321.82) scale(0.725,1)" text-anchor="middle" font-size="19" fill="#4f5560" stroke="#4f5560" stroke-width="0.2">17</text>
<text transform="translate(1373.54,321.82) scale(0.725,1)" text-anchor="middle" font-size="19" fill="#4f5560" stroke="#4f5560" stroke-width="0.2">17</text>
<text transform="translate(268.46,368.05) scale(0.725,1)" text-anchor="middle" font-size="19" fill="#4f5560" stroke="#4f5560" stroke-width="0.2">16</text>
<text transform="translate(309.39,368.05) scale(0.725,1)" text-anchor="middle" font-size="19" fill="#4f5560" stroke="#4f5560" stroke-width="0.2">10</text>
<text transform="translate(350.32,368.05) scale(0.725,1)" text-anchor="middle" font-size="19" fill="#4f5560" stroke="#4f5560" stroke-width="0.2">18</text>
<text transform="translate(391.25,368.05) scale(0.725,1)" text-anchor="middle" font-size="19" fill="#4f5560" stroke="#4f5560" stroke-width="0.2">14</text>
<text transform="translate(432.18,368.05) scale(0.725,1)" text-anchor="middle" font-size="19" fill="#4f5560" stroke="#4f5560" stroke-width="0.2">6</text>
<text transform="translate(473.11,368.05) scale(0.725,1)" text-anchor="middle" font-size="19" fill="#4f5560" stroke="#4f5560" stroke-width="0.2">15</text>
<text transform="translate(514.04,368.05) scale(0.725,1)" text-anchor="middle" font-size="19" fill="#4f5560" stroke="#4f5560" stroke-width="0.2">11</text>
<text transform="translate(554.96,368.05) scale(0.725,1)" text-anchor="middle" font-size="19" fill="#4f5560" stroke="#4f5560" stroke-width="0.2">20</text>
<text transform="translate(595.89,368.05) scale(0.725,1)" text-anchor="middle" font-size="19" fill="#4f5560" stroke="#4f5560" stroke-width="0.2">17</text>
<text transform="translate(636.82,368.05) scale(0.725,1)" text-anchor="middle" font-size="19" fill="#4f5560" stroke="#4f5560" stroke-width="0.2">19</text>
<text transform="translate(677.75,368.05) scale(0.725,1)" text-anchor="middle" font-size="19" fill="#4f5560" stroke="#4f5560" stroke-width="0.2">13</text>
<text transform="translate(718.68,368.05) scale(0.725,1)" text-anchor="middle" font-size="19" fill="#4f5560" stroke="#4f5560" stroke-width="0.2">14</text>
<text transform="translate(759.61,368.05) scale(0.725,1)" text-anchor="middle" font-size="19" fill="#4f5560" stroke="#4f5560" stroke-width="0.2">16</text>
<text transform="translate(800.54,368.05) scale(0.725,1)" text-anchor="middle" font-size="19" fill="#4f5560" stroke="#4f5560" stroke-width="0.2">17</text>
<text transform="translate(841.46,368.05) scale(0.725,1)" text-anchor="middle" font-size="19" fill="#4f5560" stroke="#4f5560" stroke-width="0.2">19</text>
<text transform="translate(882.39,368.05) scale(0.725,1)" text-anchor="middle" font-size="19" fill="#4f5560" stroke="#4f5560" stroke-width="0.2">16</text>
<text transform="translate(923.32,368.05) scale(0.725,1)" text-anchor="middle" font-size="19" fill="#4f5560" stroke="#4f5560" stroke-width="0.2">15</text>
<text transform="translate(964.25,368.05) scale(0.725,1)" text-anchor="middle" font-size="19" fill="#4f5560" stroke="#4f5560" stroke-width="0.2">11</text>
<text transform="translate(1005.18,368.05) scale(0.725,1)" text-anchor="middle" font-size="19" fill="#4f5560" stroke="#4f5560" stroke-width="0.2">13</text>
<text transform="translate(1046.11,368.05) scale(0.725,1)" text-anchor="middle" font-size="19" fill="#4f5560" stroke="#4f5560" stroke-width="0.2">12</text>
<text transform="translate(1087.04,368.05) scale(0.725,1)" text-anchor="middle" font-size="19" fill="#4f5560" stroke="#4f5560" stroke-width="0.2">16</text>
<text transform="translate(1127.96,368.05) scale(0.725,1)" text-anchor="middle" font-size="19" fill="#4f5560" stroke="#4f5560" stroke-width="0.2">24</text>
<text transform="translate(1168.89,368.05) scale(0.725,1)" text-anchor="middle" font-size="19" fill="#4f5560" stroke="#4f5560" stroke-width="0.2">22</text>
<text transform="translate(1209.82,368.05) scale(0.725,1)" text-anchor="middle" font-size="19" fill="#4f5560" stroke="#4f5560" stroke-width="0.2">21</text>
<text transform="translate(1250.75,368.05) scale(0.725,1)" text-anchor="middle" font-size="19" fill="#4f5560" stroke="#4f5560" stroke-width="0.2">11</text>
<text transform="translate(1291.68,368.05) scale(0.725,1)" text-anchor="middle" font-size="19" fill="#4f5560" stroke="#4f5560" stroke-width="0.2">15</text>
<text transform="translate(1332.61,368.05) scale(0.725,1)" text-anchor="middle" font-size="19" fill="#4f5560" stroke="#4f5560" stroke-width="0.2">14</text>
<text transform="translate(1373.54,368.05) scale(0.725,1)" text-anchor="middle" font-size="19" fill="#4f5560" stroke="#4f5560" stroke-width="0.2">10</text>
<text transform="translate(268.46,414.27) scale(0.725,1)" text-anchor="middle" font-size="19" fill="#4f5560" stroke="#4f5560" stroke-width="0.2">10</text>
<text transform="translate(309.39,414.27) scale(0.725,1)" text-anchor="middle" font-size="19" fill="#4f5560" stroke="#4f5560" stroke-width="0.2">18</text>
<text transform="translate(350.32,414.27) scale(0.725,1)" text-anchor="middle" font-size="19" fill="#4f5560" stroke="#4f5560" stroke-width="0.2">10</text>
<text transform="translate(391.25,414.27) scale(0.725,1)" text-anchor="middle" font-size="19" fill="#4f5560" stroke="#4f5560" stroke-width="0.2">10</text>
<text transform="translate(432.18,414.27) scale(0.725,1)" text-anchor="middle" font-size="19" fill="#4f5560" stroke="#4f5560" stroke-width="0.2">11</text>
<text transform="translate(473.11,414.27) scale(0.725,1)" text-anchor="middle" font-size="19" fill="#4f5560" stroke="#4f5560" stroke-width="0.2">9</text>
<text transform="translate(514.04,414.27) scale(0.725,1)" text-anchor="middle" font-size="19" fill="#4f5560" stroke="#4f5560" stroke-width="0.2">10</text>
<text transform="translate(554.96,414.27) scale(0.725,1)" text-anchor="middle" font-size="19" fill="#4f5560" stroke="#4f5560" stroke-width="0.2">6</text>
<text transform="translate(595.89,414.27) scale(0.725,1)" text-anchor="middle" font-size="19" fill="#4f5560" stroke="#4f5560" stroke-width="0.2">11</text>
<text transform="translate(636.82,414.27) scale(0.725,1)" text-anchor="middle" font-size="19" fill="#4f5560" stroke="#4f5560" stroke-width="0.2">11</text>
<text transform="translate(677.75,414.27) scale(0.725,1)" text-anchor="middle" font-size="19" fill="#4f5560" stroke="#4f5560" stroke-width="0.2">12</text>
<text transform="translate(718.68,414.27) scale(0.725,1)" text-anchor="middle" font-size="19" fill="#4f5560" stroke="#4f5560" stroke-width="0.2">3</text>
<text transform="translate(759.61,414.27) scale(0.725,1)" text-anchor="middle" font-size="19" fill="#4f5560" stroke="#4f5560" stroke-width="0.2">8</text>
<text transform="translate(800.54,414.27) scale(0.725,1)" text-anchor="middle" font-size="19" fill="#4f5560" stroke="#4f5560" stroke-width="0.2">12</text>
<text transform="translate(841.46,414.27) scale(0.725,1)" text-anchor="middle" font-size="19" fill="#4f5560" stroke="#4f5560" stroke-width="0.2">8</text>
<text transform="translate(882.39,414.27) scale(0.725,1)" text-anchor="middle" font-size="19" fill="#4f5560" stroke="#4f5560" stroke-width="0.2">9</text>
<text transform="translate(923.32,414.27) scale(0.725,1)" text-anchor="middle" font-size="19" fill="#4f5560" stroke="#4f5560" stroke-width="0.2">10</text>
<text transform="translate(964.25,414.27) scale(0.725,1)" text-anchor="middle" font-size="19" fill="#4f5560" stroke="#4f5560" stroke-width="0.2">13</text>
<text transform="translate(1005.18,414.27) scale(0.725,1)" text-anchor="middle" font-size="19" fill="#4f5560" stroke="#4f5560" stroke-width="0.2">5</text>
<text transform="translate(1046.11,414.27) scale(0.725,1)" text-anchor="middle" font-size="19" fill="#4f5560" stroke="#4f5560" stroke-width="0.2">9</text>
<text transform="translate(1087.04,414.27) scale(0.725,1)" text-anchor="middle" font-size="19" fill="#4f5560" stroke="#4f5560" stroke-width="0.2">14</text>
<text transform="translate(1127.96,414.27) scale(0.725,1)" text-anchor="middle" font-size="19" fill="#4f5560" stroke="#4f5560" stroke-width="0.2">9</text>
<text transform="translate(1168.89,414.27) scale(0.725,1)" text-anchor="middle" font-size="19" fill="#4f5560" stroke="#4f5560" stroke-width="0.2">13</text>
<text transform="translate(1209.82,414.27) scale(0.725,1)" text-anchor="middle" font-size="19" fill="#4f5560" stroke="#4f5560" stroke-width="0.2">14</text>
<text transform="translate(1250.75,414.27) scale(0.725,1)" text-anchor="middle" font-size="19" fill="#4f5560" stroke="#4f5560" stroke-width="0.2">16</text>
<text transform="translate(1291.68,414.27) scale(0.725,1)" text-anchor="middle" font-size="19" fill="#4f5560" stroke="#4f5560" stroke-width="0.2">6</text>
<text transform="translate(1332.61,414.27) scale(0.725,1)" text-anchor="middle" font-size="19" fill="#4f5560" stroke="#4f5560" stroke-width="0.2">14</text>
<text transform="translate(1373.54,414.27) scale(0.725,1)" text-anchor="middle" font-size="19" fill="#4f5560" stroke="#4f5560" stroke-width="0.2">6</text>
<text transform="translate(268.46,460.49) scale(0.725,1)" text-anchor="middle" font-size="19" fill="#4f5560" stroke="#4f5560" stroke-width="0.2">6</text>
<text transform="translate(309.39,460.49) scale(0.725,1)" text-anchor="middle" font-size="19" fill="#4f5560" stroke="#4f5560" stroke-width="0.2">3</text>
<text transform="translate(350.32,460.49) scale(0.725,1)" text-anchor="middle" font-size="19" fill="#4f5560" stroke="#4f5560" stroke-width="0.2">7</text>
<text transform="translate(391.25,460.49) scale(0.725,1)" text-anchor="middle" font-size="19" fill="#4f5560" stroke="#4f5560" stroke-width="0.2">4</text>
<text transform="translate(432.18,460.49) scale(0.725,1)" text-anchor="middle" font-size="19" fill="#4f5560" stroke="#4f5560" stroke-width="0.2">3</text>
<text transform="translate(473.11,460.49) scale(0.725,1)" text-anchor="middle" font-size="19" fill="#4f5560" stroke="#4f5560" stroke-width="0.2">13</text>
<text transform="translate(514.04,460.49) scale(0.725,1)" text-anchor="middle" font-size="19" fill="#4f5560" stroke="#4f5560" stroke-width="0.2">3</text>
<text transform="translate(554.96,460.49) scale(0.725,1)" text-anchor="middle" font-size="19" fill="#4f5560" stroke="#4f5560" stroke-width="0.2">3</text>
<text transform="translate(595.89,460.49) scale(0.725,1)" text-anchor="middle" font-size="19" fill="#4f5560" stroke="#4f5560" stroke-width="0.2">4</text>
<text transform="translate(636.82,460.49) scale(0.725,1)" text-anchor="middle" font-size="19" fill="#4f5560" stroke="#4f5560" stroke-width="0.2">4</text>
<text transform="translate(677.75,460.49) scale(0.725,1)" text-anchor="middle" font-size="19" fill="#4f5560" stroke="#4f5560" stroke-width="0.2">6</text>
<text transform="translate(718.68,460.49) scale(0.725,1)" text-anchor="middle" font-size="19" fill="#4f5560" stroke="#4f5560" stroke-width="0.2">2</text>
<text transform="translate(759.61,460.49) scale(0.725,1)" text-anchor="middle" font-size="19" fill="#4f5560" stroke="#4f5560" stroke-width="0.2">5</text>
<text transform="translate(800.54,460.49) scale(0.725,1)" text-anchor="middle" font-size="19" fill="#4f5560" stroke="#4f5560" stroke-width="0.2">0</text>
<text transform="translate(841.46,460.49) scale(0.725,1)" text-anchor="middle" font-size="19" fill="#4f5560" stroke="#4f5560" stroke-width="0.2">4</text>
<text transform="translate(882.39,460.49) scale(0.725,1)" text-anchor="middle" font-size="19" fill="#4f5560" stroke="#4f5560" stroke-width="0.2">2</text>
<text transform="translate(923.32,460.49) scale(0.725,1)" text-anchor="middle" font-size="19" fill="#4f5560" stroke="#4f5560" stroke-width="0.2">2</text>
<text transform="translate(964.25,460.49) scale(0.725,1)" text-anchor="middle" font-size="19" fill="#4f5560" stroke="#4f5560" stroke-width="0.2">7</text>
<text transform="translate(1005.18,460.49) scale(0.725,1)" text-anchor="middle" font-size="19" fill="#4f5560" stroke="#4f5560" stroke-width="0.2">3</text>
<text transform="translate(1046.11,460.49) scale(0.725,1)" text-anchor="middle" font-size="19" fill="#4f5560" stroke="#4f5560" stroke-width="0.2">4</text>
<text transform="translate(1087.04,460.49) scale(0.725,1)" text-anchor="middle" font-size="19" fill="#4f5560" stroke="#4f5560" stroke-width="0.2">6</text>
<text transform="translate(1127.96,460.49) scale(0.725,1)" text-anchor="middle" font-size="19" fill="#4f5560" stroke="#4f5560" stroke-width="0.2">3</text>
<text transform="translate(1168.89,460.49) scale(0.725,1)" text-anchor="middle" font-size="19" fill="#4f5560" stroke="#4f5560" stroke-width="0.2">3</text>
<text transform="translate(1209.82,460.49) scale(0.725,1)" text-anchor="middle" font-size="19" fill="#4f5560" stroke="#4f5560" stroke-width="0.2">3</text>
<text transform="translate(1250.75,460.49) scale(0.725,1)" text-anchor="middle" font-size="19" fill="#4f5560" stroke="#4f5560" stroke-width="0.2">6</text>
<text transform="translate(1291.68,460.49) scale(0.725,1)" text-anchor="middle" font-size="19" fill="#4f5560" stroke="#4f5560" stroke-width="0.2">3</text>
<text transform="translate(1332.61,460.49) scale(0.725,1)" text-anchor="middle" font-size="19" fill="#4f5560" stroke="#4f5560" stroke-width="0.2">4</text>
<text transform="translate(1373.54,460.49) scale(0.725,1)" text-anchor="middle" font-size="19" fill="#4f5560" stroke="#4f5560" stroke-width="0.2">4</text>
<text transform="translate(268.46,506.72) scale(0.725,1)" text-anchor="middle" font-size="19" fill="#4f5560" stroke="#4f5560" stroke-width="0.2">9</text>
<text transform="translate(309.39,506.72) scale(0.725,1)" text-anchor="middle" font-size="19" fill="#4f5560" stroke="#4f5560" stroke-width="0.2">10</text>
<text transform="translate(350.32,506.72) scale(0.725,1)" text-anchor="middle" font-size="19" fill="#4f5560" stroke="#4f5560" stroke-width="0.2">4</text>
<text transform="translate(391.25,506.72) scale(0.725,1)" text-anchor="middle" font-size="19" fill="#4f5560" stroke="#4f5560" stroke-width="0.2">6</text>
<text transform="translate(432.18,506.72) scale(0.725,1)" text-anchor="middle" font-size="19" fill="#4f5560" stroke="#4f5560" stroke-width="0.2">8</text>
<text transform="translate(473.11,506.72) scale(0.725,1)" text-anchor="middle" font-size="19" fill="#4f5560" stroke="#4f5560" stroke-width="0.2">14</text>
<text transform="translate(514.04,506.72) scale(0.725,1)" text-anchor="middle" font-size="19" fill="#4f5560" stroke="#4f5560" stroke-width="0.2">3</text>
<text transform="translate(554.96,506.72) scale(0.725,1)" text-anchor="middle" font-size="19" fill="#4f5560" stroke="#4f5560" stroke-width="0.2">4</text>
<text transform="translate(595.89,506.72) scale(0.725,1)" text-anchor="middle" font-size="19" fill="#4f5560" stroke="#4f5560" stroke-width="0.2">2</text>
<text transform="translate(636.82,506.72) scale(0.725,1)" text-anchor="middle" font-size="19" fill="#4f5560" stroke="#4f5560" stroke-width="0.2">7</text>
<text transform="translate(677.75,506.72) scale(0.725,1)" text-anchor="middle" font-size="19" fill="#4f5560" stroke="#4f5560" stroke-width="0.2">16</text>
<text transform="translate(718.68,506.72) scale(0.725,1)" text-anchor="middle" font-size="19" fill="#4f5560" stroke="#4f5560" stroke-width="0.2">3</text>
<text transform="translate(759.61,506.72) scale(0.725,1)" text-anchor="middle" font-size="19" fill="#4f5560" stroke="#4f5560" stroke-width="0.2">7</text>
<text transform="translate(800.54,506.72) scale(0.725,1)" text-anchor="middle" font-size="19" fill="#4f5560" stroke="#4f5560" stroke-width="0.2">3</text>
<text transform="translate(841.46,506.72) scale(0.725,1)" text-anchor="middle" font-size="19" fill="#4f5560" stroke="#4f5560" stroke-width="0.2">3</text>
<text transform="translate(882.39,506.72) scale(0.725,1)" text-anchor="middle" font-size="19" fill="#4f5560" stroke="#4f5560" stroke-width="0.2">3</text>
<text transform="translate(923.32,506.72) scale(0.725,1)" text-anchor="middle" font-size="19" fill="#4f5560" stroke="#4f5560" stroke-width="0.2">2</text>
<text transform="translate(964.25,506.72) scale(0.725,1)" text-anchor="middle" font-size="19" fill="#4f5560" stroke="#4f5560" stroke-width="0.2">4</text>
<text transform="translate(1005.18,506.72) scale(0.725,1)" text-anchor="middle" font-size="19" fill="#4f5560" stroke="#4f5560" stroke-width="0.2">3</text>
<text transform="translate(1046.11,506.72) scale(0.725,1)" text-anchor="middle" font-size="19" fill="#4f5560" stroke="#4f5560" stroke-width="0.2">7</text>
<text transform="translate(1087.04,506.72) scale(0.725,1)" text-anchor="middle" font-size="19" fill="#4f5560" stroke="#4f5560" stroke-width="0.2">11</text>
<text transform="translate(1127.96,506.72) scale(0.725,1)" text-anchor="middle" font-size="19" fill="#4f5560" stroke="#4f5560" stroke-width="0.2">4</text>
<text transform="translate(1168.89,506.72) scale(0.725,1)" text-anchor="middle" font-size="19" fill="#4f5560" stroke="#4f5560" stroke-width="0.2">5</text>
<text transform="translate(1209.82,506.72) scale(0.725,1)" text-anchor="middle" font-size="19" fill="#4f5560" stroke="#4f5560" stroke-width="0.2">4</text>
<text transform="translate(1250.75,506.72) scale(0.725,1)" text-anchor="middle" font-size="19" fill="#4f5560" stroke="#4f5560" stroke-width="0.2">3</text>
<text transform="translate(1291.68,506.72) scale(0.725,1)" text-anchor="middle" font-size="19" fill="#4f5560" stroke="#4f5560" stroke-width="0.2">10</text>
<text transform="translate(1332.61,506.72) scale(0.725,1)" text-anchor="middle" font-size="19" fill="#4f5560" stroke="#4f5560" stroke-width="0.2">3</text>
<text transform="translate(1373.54,506.72) scale(0.725,1)" text-anchor="middle" font-size="19" fill="#4f5560" stroke="#4f5560" stroke-width="0.2">4</text>
<text transform="translate(268.46,552.94) scale(0.725,1)" text-anchor="middle" font-size="19" fill="#4f5560" stroke="#4f5560" stroke-width="0.2">2</text>
<text transform="translate(309.39,552.94) scale(0.725,1)" text-anchor="middle" font-size="19" fill="#4f5560" stroke="#4f5560" stroke-width="0.2">2</text>
<text transform="translate(350.32,552.94) scale(0.725,1)" text-anchor="middle" font-size="19" fill="#4f5560" stroke="#4f5560" stroke-width="0.2">2</text>
<text transform="translate(391.25,552.94) scale(0.725,1)" text-anchor="middle" font-size="19" fill="#4f5560" stroke="#4f5560" stroke-width="0.2">2</text>
<text transform="translate(432.18,552.94) scale(0.725,1)" text-anchor="middle" font-size="19" fill="#4f5560" stroke="#4f5560" stroke-width="0.2">3</text>
<text transform="translate(473.11,552.94) scale(0.725,1)" text-anchor="middle" font-size="19" fill="#4f5560" stroke="#4f5560" stroke-width="0.2">3</text>
<text transform="translate(514.04,552.94) scale(0.725,1)" text-anchor="middle" font-size="19" fill="#4f5560" stroke="#4f5560" stroke-width="0.2">1</text>
<text transform="translate(554.96,552.94) scale(0.725,1)" text-anchor="middle" font-size="19" fill="#4f5560" stroke="#4f5560" stroke-width="0.2">1</text>
<text transform="translate(595.89,552.94) scale(0.725,1)" text-anchor="middle" font-size="19" fill="#4f5560" stroke="#4f5560" stroke-width="0.2">1</text>
<text transform="translate(636.82,552.94) scale(0.725,1)" text-anchor="middle" font-size="19" fill="#4f5560" stroke="#4f5560" stroke-width="0.2">2</text>
<text transform="translate(677.75,552.94) scale(0.725,1)" text-anchor="middle" font-size="19" fill="#4f5560" stroke="#4f5560" stroke-width="0.2">2</text>
<text transform="translate(718.68,552.94) scale(0.725,1)" text-anchor="middle" font-size="19" fill="#4f5560" stroke="#4f5560" stroke-width="0.2">2</text>
<text transform="translate(759.61,552.94) scale(0.725,1)" text-anchor="middle" font-size="19" fill="#4f5560" stroke="#4f5560" stroke-width="0.2">2</text>
<text transform="translate(800.54,552.94) scale(0.725,1)" text-anchor="middle" font-size="19" fill="#4f5560" stroke="#4f5560" stroke-width="0.2">2</text>
<text transform="translate(841.46,552.94) scale(0.725,1)" text-anchor="middle" font-size="19" fill="#4f5560" stroke="#4f5560" stroke-width="0.2">2</text>
<text transform="translate(882.39,552.94) scale(0.725,1)" text-anchor="middle" font-size="19" fill="#4f5560" stroke="#4f5560" stroke-width="0.2">1</text>
<text transform="translate(923.32,552.94) scale(0.725,1)" text-anchor="middle" font-size="19" fill="#4f5560" stroke="#4f5560" stroke-width="0.2">0</text>
<text transform="translate(964.25,552.94) scale(0.725,1)" text-anchor="middle" font-size="19" fill="#4f5560" stroke="#4f5560" stroke-width="0.2">2</text>
<text transform="translate(1005.18,552.94) scale(0.725,1)" text-anchor="middle" font-size="19" fill="#4f5560" stroke="#4f5560" stroke-width="0.2">0</text>
<text transform="translate(1046.11,552.94) scale(0.725,1)" text-anchor="middle" font-size="19" fill="#4f5560" stroke="#4f5560" stroke-width="0.2">1</text>
<text transform="translate(1087.04,552.94) scale(0.725,1)" text-anchor="middle" font-size="19" fill="#4f5560" stroke="#4f5560" stroke-width="0.2">2</text>
<text transform="translate(1127.96,552.94) scale(0.725,1)" text-anchor="middle" font-size="19" fill="#4f5560" stroke="#4f5560" stroke-width="0.2">2</text>
<text transform="translate(1168.89,552.94) scale(0.725,1)" text-anchor="middle" font-size="19" fill="#4f5560" stroke="#4f5560" stroke-width="0.2">1</text>
<text transform="translate(1209.82,552.94) scale(0.725,1)" text-anchor="middle" font-size="19" fill="#4f5560" stroke="#4f5560" stroke-width="0.2">1</text>
<text transform="translate(1250.75,552.94) scale(0.725,1)" text-anchor="middle" font-size="19" fill="#4f5560" stroke="#4f5560" stroke-width="0.2">1</text>
<text transform="translate(1291.68,552.94) scale(0.725,1)" text-anchor="middle" font-size="19" fill="#4f5560" stroke="#4f5560" stroke-width="0.2">2</text>
<text transform="translate(1332.61,552.94) scale(0.725,1)" text-anchor="middle" font-size="19" fill="#4f5560" stroke="#4f5560" stroke-width="0.2">2</text>
<text transform="translate(1373.54,552.94) scale(0.725,1)" text-anchor="middle" font-size="19" fill="#4f5560" stroke="#4f5560" stroke-width="0.2">2</text>
<text transform="translate(240.80,171.70) scale(0.7021,1)" text-anchor="end" font-size="19.4" letter-spacing="0.2" fill="#a0a0a2" stroke="#a0a0a2" stroke-width="0.3">You directly go to the website or</text>
<text transform="translate(241.30,190.80) scale(0.6800,1)" text-anchor="end" font-size="19.4" letter-spacing="0.2" fill="#a0a0a2" stroke="#a0a0a2" stroke-width="0.3">app of the news source</text>
<text transform="translate(240.80,217.70) scale(0.6793,1)" text-anchor="end" font-size="19.4" letter-spacing="0.2" fill="#a0a0a2" stroke="#a0a0a2" stroke-width="0.3">You read articles or posts that appear</text>
<text transform="translate(241.30,236.80) scale(0.6912,1)" text-anchor="end" font-size="19.4" letter-spacing="0.2" fill="#a0a0a2" stroke="#a0a0a2" stroke-width="0.3">in your online social networks</text>
<text transform="translate(240.80,263.70) scale(0.6721,1)" text-anchor="end" font-size="19.4" letter-spacing="0.2" fill="#a0a0a2" stroke="#a0a0a2" stroke-width="0.3">You use a news aggregator</text>
<text transform="translate(241.30,282.80) scale(0.7007,1)" text-anchor="end" font-size="19.4" letter-spacing="0.2" fill="#a0a0a2" stroke="#a0a0a2" stroke-width="0.3">app or website</text>
<text transform="translate(241.30,309.70) scale(0.6867,1)" text-anchor="end" font-size="19.4" letter-spacing="0.2" fill="#a0a0a2" stroke="#a0a0a2" stroke-width="0.3">Via notifications from news apps you</text>
<text transform="translate(241.30,328.80) scale(0.6910,1)" text-anchor="end" font-size="19.4" letter-spacing="0.2" fill="#a0a0a2" stroke="#a0a0a2" stroke-width="0.3">registered to or via alerts you receive</text>
<text transform="translate(241.30,355.70) scale(0.6869,1)" text-anchor="end" font-size="19.4" letter-spacing="0.2" fill="#a0a0a2" stroke="#a0a0a2" stroke-width="0.3">You read content shared by friends</text>
<text transform="translate(241.30,374.80) scale(0.6772,1)" text-anchor="end" font-size="19.4" letter-spacing="0.2" fill="#a0a0a2" stroke="#a0a0a2" stroke-width="0.3">on direct messaging apps</text>
<text transform="translate(241.30,411.40) scale(0.6963,1)" text-anchor="end" font-size="19.4" letter-spacing="0.2" fill="#a0a0a2" stroke="#a0a0a2" stroke-width="0.3">Via email newsletter(s) you receive</text>
<text transform="translate(240.80,457.62) scale(0.7208,1)" text-anchor="end" font-size="19.4" letter-spacing="0.2" fill="#a0a0a2" stroke="#a0a0a2" stroke-width="0.3">Other</text>
<text transform="translate(241.30,503.85) scale(0.6654,1)" text-anchor="end" font-size="19.4" letter-spacing="0.2" fill="#a0a0a2" stroke="#a0a0a2" stroke-width="0.3">You never access news online</text>
<text transform="translate(240.80,550.07) scale(0.7402,1)" text-anchor="end" font-size="19.4" letter-spacing="0.2" fill="#a0a0a2" stroke="#a0a0a2" stroke-width="0.3">Don’t know</text>
<text transform="translate(269.16,106.9) scale(0.64,1)" text-anchor="middle" font-size="19.5" fill="#a5a5a5" stroke="#a5a5a5" stroke-width="0.3">EU27</text>
<g transform="translate(271.75,133.30)"><g clip-path="url(#fc)"><rect x="-14.7" y="-14.7" width="29.4" height="29.4" fill="#1f3d97"/><polygon points="0.00,-12.30 0.52,-10.91 2.00,-10.85 0.84,-9.93 1.23,-8.50 0.00,-9.32 -1.23,-8.50 -0.84,-9.93 -2.00,-10.85 -0.52,-10.91" fill="#eee08a"/><polygon points="5.10,-10.93 5.62,-9.55 7.10,-9.48 5.94,-8.56 6.33,-7.13 5.10,-7.95 3.87,-7.13 4.26,-8.56 3.10,-9.48 4.58,-9.55" fill="#eee08a"/><polygon points="8.83,-7.20 9.35,-5.81 10.83,-5.75 9.67,-4.83 10.07,-3.40 8.83,-4.22 7.60,-3.40 7.99,-4.83 6.84,-5.75 8.32,-5.81" fill="#eee08a"/><polygon points="10.20,-2.10 10.72,-0.71 12.20,-0.65 11.04,0.27 11.43,1.70 10.20,0.88 8.97,1.70 9.36,0.27 8.20,-0.65 9.68,-0.71" fill="#eee08a"/><polygon points="8.83,3.00 9.35,4.39 10.83,4.45 9.67,5.37 10.07,6.80 8.83,5.98 7.60,6.80 7.99,5.37 6.84,4.45 8.32,4.39" fill="#eee08a"/><polygon points="5.10,6.73 5.62,8.12 7.10,8.18 5.94,9.11 6.33,10.53 5.10,9.72 3.87,10.53 4.26,9.11 3.10,8.18 4.58,8.12" fill="#eee08a"/><polygon points="0.00,8.10 0.52,9.49 2.00,9.55 0.84,10.47 1.23,11.90 0.00,11.08 -1.23,11.90 -0.84,10.47 -2.00,9.55 -0.52,9.49" fill="#eee08a"/><polygon points="-5.10,6.73 -4.58,8.12 -3.10,8.18 -4.26,9.11 -3.87,10.53 -5.10,9.72 -6.33,10.53 -5.94,9.11 -7.10,8.18 -5.62,8.12" fill="#eee08a"/><polygon points="-8.83,3.00 -8.32,4.39 -6.84,4.45 -7.99,5.37 -7.60,6.80 -8.83,5.98 -10.07,6.80 -9.67,5.37 -10.83,4.45 -9.35,4.39" fill="#eee08a"/><polygon points="-10.20,-2.10 -9.68,-0.71 -8.20,-0.65 -9.36,0.27 -8.97,1.70 -10.20,0.88 -11.43,1.70 -11.04,0.27 -12.20,-0.65 -10.72,-0.71" fill="#eee08a"/><polygon points="-8.83,-7.20 -8.32,-5.81 -6.84,-5.75 -7.99,-4.83 -7.60,-3.40 -8.83,-4.22 -10.07,-3.40 -9.67,-4.83 -10.83,-5.75 -9.35,-5.81" fill="#eee08a"/><polygon points="-5.10,-10.93 -4.58,-9.55 -3.10,-9.48 -4.26,-8.56 -3.87,-7.13 -5.10,-7.95 -6.33,-7.13 -5.94,-8.56 -7.10,-9.48 -5.62,-9.55" fill="#eee08a"/></g><circle cx="0" cy="0" r="14.45" fill="none" stroke="#909090" stroke-opacity="0.7" stroke-width="0.6"/></g>
<text transform="translate(310.09,106.9) scale(0.64,1)" text-anchor="middle" font-size="19.5" fill="#a5a5a5" stroke="#a5a5a5" stroke-width="0.3">BE</text>
<g transform="translate(312.57,133.30)"><g clip-path="url(#fc)"><rect x="-14.70" y="-14.7" width="10.10" height="29.4" fill="#161616"/><rect x="-4.90" y="-14.7" width="10.10" height="29.4" fill="#f6d22a"/><rect x="4.90" y="-14.7" width="10.10" height="29.4" fill="#de2a33"/></g><circle cx="0" cy="0" r="14.45" fill="none" stroke="#909090" stroke-opacity="0.7" stroke-width="0.6"/></g>
<text transform="translate(351.02,106.9) scale(0.64,1)" text-anchor="middle" font-size="19.5" fill="#a5a5a5" stroke="#a5a5a5" stroke-width="0.3">BG</text>
<g transform="translate(353.39,133.30)"><g clip-path="url(#fc)"><rect x="-14.7" y="-14.70" width="29.4" height="10.10" fill="#f4f4f4"/><rect x="-14.7" y="-4.90" width="29.4" height="10.10" fill="#24966b"/><rect x="-14.7" y="4.90" width="29.4" height="10.10" fill="#d4343c"/></g><circle cx="0" cy="0" r="14.45" fill="none" stroke="#909090" stroke-opacity="0.7" stroke-width="0.6"/></g>
<text transform="translate(391.95,106.9) scale(0.64,1)" text-anchor="middle" font-size="19.5" fill="#a5a5a5" stroke="#a5a5a5" stroke-width="0.3">CZ</text>
<g transform="translate(394.20,133.30)"><g clip-path="url(#fc)"><rect x="-14.7" y="-14.70" width="29.4" height="15.00" fill="#f4f4f4"/><rect x="-14.7" y="0.00" width="29.4" height="15.00" fill="#d32a36"/><polygon points="-14.7,-14.7 0.5,0 -14.7,14.7" fill="#20557f"/></g><circle cx="0" cy="0" r="14.45" fill="none" stroke="#909090" stroke-opacity="0.7" stroke-width="0.6"/></g>
<text transform="translate(432.88,106.9) scale(0.64,1)" text-anchor="middle" font-size="19.5" fill="#a5a5a5" stroke="#a5a5a5" stroke-width="0.3">DK</text>
<g transform="translate(435.02,133.30)"><g clip-path="url(#fc)"><rect x="-14.7" y="-14.7" width="29.4" height="29.4" fill="#d42b3b"/><rect x="-8.95" y="-14.7" width="5.1" height="29.4" fill="#f5f5f5"/><rect x="-14.7" y="-1.2" width="29.4" height="5.0" fill="#f5f5f5"/></g><circle cx="0" cy="0" r="14.45" fill="none" stroke="#909090" stroke-opacity="0.7" stroke-width="0.6"/></g>
<text transform="translate(473.81,106.9) scale(0.64,1)" text-anchor="middle" font-size="19.5" fill="#a5a5a5" stroke="#a5a5a5" stroke-width="0.3">DE</text>
<g transform="translate(475.84,133.30)"><g clip-path="url(#fc)"><rect x="-14.7" y="-14.70" width="29.4" height="10.10" fill="#141414"/><rect x="-14.7" y="-4.90" width="29.4" height="10.10" fill="#dc2b2b"/><rect x="-14.7" y="4.90" width="29.4" height="10.10" fill="#f4c21d"/></g><circle cx="0" cy="0" r="14.45" fill="none" stroke="#909090" stroke-opacity="0.7" stroke-width="0.6"/></g>
<text transform="translate(514.74,106.9) scale(0.64,1)" text-anchor="middle" font-size="19.5" fill="#a5a5a5" stroke="#a5a5a5" stroke-width="0.3">EE</text>
<g transform="translate(516.66,133.30)"><g clip-path="url(#fc)"><rect x="-14.7" y="-14.70" width="29.4" height="10.10" fill="#4a85c6"/><rect x="-14.7" y="-4.90" width="29.4" height="10.10" fill="#141414"/><rect x="-14.7" y="4.90" width="29.4" height="10.10" fill="#f4f4f4"/></g><circle cx="0" cy="0" r="14.45" fill="none" stroke="#909090" stroke-opacity="0.7" stroke-width="0.6"/></g>
<text transform="translate(555.66,106.9) scale(0.64,1)" text-anchor="middle" font-size="19.5" fill="#a5a5a5" stroke="#a5a5a5" stroke-width="0.3">IE</text>
<g transform="translate(557.48,133.30)"><g clip-path="url(#fc)"><rect x="-14.70" y="-14.7" width="10.10" height="29.4" fill="#1f9a5f"/><rect x="-4.90" y="-14.7" width="10.10" height="29.4" fill="#f4f4f4"/><rect x="4.90" y="-14.7" width="10.10" height="29.4" fill="#f38a3e"/></g><circle cx="0" cy="0" r="14.45" fill="none" stroke="#909090" stroke-opacity="0.7" stroke-width="0.6"/></g>
<text transform="translate(596.59,106.9) scale(0.64,1)" text-anchor="middle" font-size="19.5" fill="#a5a5a5" stroke="#a5a5a5" stroke-width="0.3">EL</text>
<g transform="translate(598.29,133.30)"><g clip-path="url(#fc)"><rect x="-14.7" y="-14.70" width="29.4" height="3.57" fill="#27409a"/><rect x="-14.7" y="-11.43" width="29.4" height="3.57" fill="#f5f5f8"/><rect x="-14.7" y="-8.17" width="29.4" height="3.57" fill="#27409a"/><rect x="-14.7" y="-4.90" width="29.4" height="3.57" fill="#f5f5f8"/><rect x="-14.7" y="-1.63" width="29.4" height="3.57" fill="#27409a"/><rect x="-14.7" y="1.63" width="29.4" height="3.57" fill="#f5f5f8"/><rect x="-14.7" y="4.90" width="29.4" height="3.57" fill="#27409a"/><rect x="-14.7" y="8.17" width="29.4" height="3.57" fill="#f5f5f8"/><rect x="-14.7" y="11.43" width="29.4" height="3.57" fill="#27409a"/><rect x="-14.7" y="-14.7" width="14.00" height="16.33" fill="#27409a"/><rect x="-10.6" y="-14.7" width="3.2" height="16.33" fill="#f5f5f8"/><rect x="-14.7" y="-8.17" width="14.00" height="3.27" fill="#f5f5f8"/></g><circle cx="0" cy="0" r="14.45" fill="none" stroke="#909090" stroke-opacity="0.7" stroke-width="0.6"/></g>
<text transform="translate(637.52,106.9) scale(0.64,1)" text-anchor="middle" font-size="19.5" fill="#a5a5a5" stroke="#a5a5a5" stroke-width="0.3">ES</text>
<g transform="translate(639.11,133.30)"><g clip-path="url(#fc)"><rect x="-14.7" y="-14.70" width="29.4" height="8.24" fill="#c9222d"/><rect x="-14.7" y="-6.76" width="29.4" height="14.12" fill="#f5bd1e"/><rect x="-14.7" y="7.06" width="29.4" height="7.94" fill="#c9222d"/><path d="M-8.2,-2.6 Q-8.2,-4.6 -6,-4.8 Q-3.8,-4.6 -3.8,-2.6 Z" fill="#5a2a18"/><path d="M-8.4,-2.4 L-3.6,-2.4 L-3.6,1.8 Q-3.8,4.2 -6,4.4 Q-8.2,4.2 -8.4,1.8 Z" fill="#7a3020"/><rect x="-10" y="-2" width="1.3" height="6" fill="#4a2a1a"/><rect x="-3.3" y="-2" width="1.3" height="6" fill="#4a2a1a"/><rect x="-7.6" y="-1.6" width="1.6" height="2" fill="#c23a2a"/><rect x="-6" y="0.4" width="1.6" height="2" fill="#c23a2a"/><circle cx="-6" cy="-0.2" r="0.7" fill="#3a5aa0"/></g><circle cx="0" cy="0" r="14.45" fill="none" stroke="#909090" stroke-opacity="0.7" stroke-width="0.6"/></g>
<text transform="translate(678.45,106.9) scale(0.64,1)" text-anchor="middle" font-size="19.5" fill="#a5a5a5" stroke="#a5a5a5" stroke-width="0.3">FR</text>
<g transform="translate(679.93,133.30)"><g clip-path="url(#fc)"><rect x="-14.70" y="-14.7" width="10.10" height="29.4" fill="#2b4c9c"/><rect x="-4.90" y="-14.7" width="10.10" height="29.4" fill="#f5f5f5"/><rect x="4.90" y="-14.7" width="10.10" height="29.4" fill="#e8404a"/></g><circle cx="0" cy="0" r="14.45" fill="none" stroke="#909090" stroke-opacity="0.7" stroke-width="0.6"/></g>
<text transform="translate(719.38,106.9) scale(0.64,1)" text-anchor="middle" font-size="19.5" fill="#a5a5a5" stroke="#a5a5a5" stroke-width="0.3">HR</text>
<g transform="translate(720.75,133.30)"><g clip-path="url(#fc)"><rect x="-14.7" y="-14.70" width="29.4" height="10.00" fill="#e2242c"/><rect x="-14.7" y="-5.00" width="29.4" height="10.30" fill="#f6f6f6"/><rect x="-14.7" y="5.00" width="29.4" height="10.00" fill="#232f96"/><path d="M-6.1,-3.6 L6.1,-3.6 L6.1,4.4 Q6.1,9.2 0,10.6 Q-6.1,9.2 -6.1,4.4 Z" fill="#f6f6f6"/><rect x="-6.10" y="-3.60" width="2.44" height="2.44" fill="#d8242e"/><rect x="-6.10" y="1.28" width="2.44" height="2.44" fill="#d8242e"/><rect x="-6.10" y="6.16" width="2.44" height="2.44" fill="#d8242e"/><rect x="-3.66" y="-1.16" width="2.44" height="2.44" fill="#d8242e"/><rect x="-3.66" y="3.72" width="2.44" height="2.44" fill="#d8242e"/><rect x="-3.66" y="8.60" width="2.44" height="2.44" fill="#d8242e"/><rect x="-1.22" y="-3.60" width="2.44" height="2.44" fill="#d8242e"/><rect x="-1.22" y="1.28" width="2.44" height="2.44" fill="#d8242e"/><rect x="-1.22" y="6.16" width="2.44" height="2.44" fill="#d8242e"/><rect x="1.22" y="-1.16" width="2.44" height="2.44" fill="#d8242e"/><rect x="1.22" y="3.72" width="2.44" height="2.44" fill="#d8242e"/><rect x="1.22" y="8.60" width="2.44" height="2.44" fill="#d8242e"/><rect x="3.66" y="-3.60" width="2.44" height="2.44" fill="#d8242e"/><rect x="3.66" y="1.28" width="2.44" height="2.44" fill="#d8242e"/><rect x="3.66" y="6.16" width="2.44" height="2.44" fill="#d8242e"/><path d="M0,0 Z" fill="none"/><path d="M-7.2,-4.3 L-7.2,-6.6 L-5,-7.8 L-2.6,-8.4 L0,-8.6 L2.6,-8.4 L5,-7.8 L7.2,-6.6 L7.2,-4.3 Z" fill="#6d8fc8"/><path d="M-5.2,-4.3 L-5.2,-7.2 M-2.2,-4.3 L-2.2,-8.2 M1,-4.3 L1,-8.4 M4,-4.3 L4,-7.8" stroke="#cc3340" stroke-width="1"/></g><circle cx="0" cy="0" r="14.45" fill="none" stroke="#909090" stroke-opacity="0.7" stroke-width="0.6"/></g>
<text transform="translate(760.31,106.9) scale(0.64,1)" text-anchor="middle" font-size="19.5" fill="#a5a5a5" stroke="#a5a5a5" stroke-width="0.3">IT</text>
<g transform="translate(761.57,133.30)"><g clip-path="url(#fc)"><rect x="-14.70" y="-14.7" width="10.10" height="29.4" fill="#169a47"/><rect x="-4.90" y="-14.7" width="10.10" height="29.4" fill="#f5f5f5"/><rect x="4.90" y="-14.7" width="10.10" height="29.4" fill="#d62b38"/></g><circle cx="0" cy="0" r="14.45" fill="none" stroke="#909090" stroke-opacity="0.7" stroke-width="0.6"/></g>
<text transform="translate(801.24,106.9) scale(0.64,1)" text-anchor="middle" font-size="19.5" fill="#a5a5a5" stroke="#a5a5a5" stroke-width="0.3">CY</text>
<g transform="translate(802.38,133.30)"><g clip-path="url(#fc)"><rect x="-14.7" y="-14.7" width="29.4" height="29.4" fill="#f6f6f8"/><path d="M-9.6,-0.9 L-6.5,-2.6 L-4,-3.9 L-1,-4.3 L3,-4.1 L6.9,-4.4 L9.5,-6.2 L13.2,-7.6 L10.6,-4.8 L8.6,-3.6 L7.4,-0.4 L4.6,0.1 L2.3,0.5 L-0.6,2.2 L-3,3.7 L-5.4,2.6 L-7.6,1.7 Z" fill="#d98027"/><path d="M-8.6,4.6 Q-5,8.2 -0.6,8.4 M0.6,8.4 Q5,8.2 7.8,4.8" stroke="#56614c" stroke-width="1.3" fill="none"/></g><circle cx="0" cy="0" r="14.45" fill="none" stroke="#909090" stroke-opacity="0.7" stroke-width="0.6"/></g>
<text transform="translate(842.16,106.9) scale(0.64,1)" text-anchor="middle" font-size="19.5" fill="#a5a5a5" stroke="#a5a5a5" stroke-width="0.3">LV</text>
<g transform="translate(843.20,133.30)"><g clip-path="url(#fc)"><rect x="-14.7" y="-14.70" width="29.4" height="11.18" fill="#9c2833"/><rect x="-14.7" y="-3.82" width="29.4" height="7.65" fill="#f7f7f7"/><rect x="-14.7" y="3.53" width="29.4" height="11.47" fill="#9c2833"/></g><circle cx="0" cy="0" r="14.45" fill="none" stroke="#909090" stroke-opacity="0.7" stroke-width="0.6"/></g>
<text transform="translate(883.09,106.9) scale(0.64,1)" text-anchor="middle" font-size="19.5" fill="#a5a5a5" stroke="#a5a5a5" stroke-width="0.3">LT</text>
<g transform="translate(884.02,133.30)"><g clip-path="url(#fc)"><rect x="-14.7" y="-14.70" width="29.4" height="10.10" fill="#f3b928"/><rect x="-14.7" y="-4.90" width="29.4" height="10.10" fill="#1d7446"/><rect x="-14.7" y="4.90" width="29.4" height="10.10" fill="#bf2c2f"/></g><circle cx="0" cy="0" r="14.45" fill="none" stroke="#909090" stroke-opacity="0.7" stroke-width="0.6"/></g>
<text transform="translate(924.02,106.9) scale(0.64,1)" text-anchor="middle" font-size="19.5" fill="#a5a5a5" stroke="#a5a5a5" stroke-width="0.3">LU</text>
<g transform="translate(924.84,133.30)"><g clip-path="url(#fc)"><rect x="-14.7" y="-14.70" width="29.4" height="10.10" fill="#eb3438"/><rect x="-14.7" y="-4.90" width="29.4" height="10.10" fill="#f6f6f6"/><rect x="-14.7" y="4.90" width="29.4" height="10.10" fill="#33a3dd"/></g><circle cx="0" cy="0" r="14.45" fill="none" stroke="#909090" stroke-opacity="0.7" stroke-width="0.6"/></g>
<text transform="translate(964.95,106.9) scale(0.64,1)" text-anchor="middle" font-size="19.5" fill="#a5a5a5" stroke="#a5a5a5" stroke-width="0.3">HU</text>
<g transform="translate(965.66,133.30)"><g clip-path="url(#fc)"><rect x="-14.7" y="-14.70" width="29.4" height="10.10" fill="#d12f3e"/><rect x="-14.7" y="-4.90" width="29.4" height="10.10" fill="#f6f6f6"/><rect x="-14.7" y="4.90" width="29.4" height="10.10" fill="#2b8a50"/></g><circle cx="0" cy="0" r="14.45" fill="none" stroke="#909090" stroke-opacity="0.7" stroke-width="0.6"/></g>
<text transform="translate(1005.88,106.9) scale(0.64,1)" text-anchor="middle" font-size="19.5" fill="#a5a5a5" stroke="#a5a5a5" stroke-width="0.3">MT</text>
<g transform="translate(1006.47,133.30)"><g clip-path="url(#fc)"><rect x="-14.70" y="-14.7" width="15.00" height="29.4" fill="#f6f6f6"/><rect x="0.00" y="-14.7" width="15.00" height="29.4" fill="#d11f2f"/><path d="M-10.6,-7.8 h2 v-2 h1.6 v2 h2 v1.6 h-2 v2 h-1.6 v-2 h-2 z" fill="#8a8a8a"/></g><circle cx="0" cy="0" r="14.45" fill="none" stroke="#909090" stroke-opacity="0.7" stroke-width="0.6"/></g>
<text transform="translate(1046.81,106.9) scale(0.64,1)" text-anchor="middle" font-size="19.5" fill="#a5a5a5" stroke="#a5a5a5" stroke-width="0.3">NL</text>
<g transform="translate(1047.29,133.30)"><g clip-path="url(#fc)"><rect x="-14.7" y="-14.70" width="29.4" height="10.10" fill="#a8222e"/><rect x="-14.7" y="-4.90" width="29.4" height="10.10" fill="#f6f6f6"/><rect x="-14.7" y="4.90" width="29.4" height="10.10" fill="#27478e"/></g><circle cx="0" cy="0" r="14.45" fill="none" stroke="#909090" stroke-opacity="0.7" stroke-width="0.6"/></g>
<text transform="translate(1087.74,106.9) scale(0.64,1)" text-anchor="middle" font-size="19.5" fill="#a5a5a5" stroke="#a5a5a5" stroke-width="0.3">AT</text>
<g transform="translate(1088.11,133.30)"><g clip-path="url(#fc)"><rect x="-14.7" y="-14.70" width="29.4" height="10.10" fill="#e13a33"/><rect x="-14.7" y="-4.90" width="29.4" height="10.10" fill="#f6f6f6"/><rect x="-14.7" y="4.90" width="29.4" height="10.10" fill="#e13a33"/></g><circle cx="0" cy="0" r="14.45" fill="none" stroke="#909090" stroke-opacity="0.7" stroke-width="0.6"/></g>
<text transform="translate(1128.66,106.9) scale(0.64,1)" text-anchor="middle" font-size="19.5" fill="#a5a5a5" stroke="#a5a5a5" stroke-width="0.3">PL</text>
<g transform="translate(1128.93,133.30)"><g clip-path="url(#fc)"><rect x="-14.7" y="-14.70" width="29.4" height="15.00" fill="#f7f7f7"/><rect x="-14.7" y="0.00" width="29.4" height="15.00" fill="#d52b3a"/></g><circle cx="0" cy="0" r="14.45" fill="none" stroke="#909090" stroke-opacity="0.7" stroke-width="0.6"/></g>
<text transform="translate(1169.59,106.9) scale(0.64,1)" text-anchor="middle" font-size="19.5" fill="#a5a5a5" stroke="#a5a5a5" stroke-width="0.3">PT</text>
<g transform="translate(1169.75,133.30)"><g clip-path="url(#fc)"><rect x="-14.70" y="-14.7" width="10.88" height="29.4" fill="#1d6a36"/><rect x="-4.12" y="-14.7" width="19.12" height="29.4" fill="#e2302a"/><circle cx="-5.3" cy="0" r="5.8" fill="none" stroke="#e6be38" stroke-width="1.6"/><path d="M-8.6,-3.6 L-2,-3.6 L-2,1.6 Q-2,4.6 -5.3,5.2 Q-8.6,4.6 -8.6,1.6 Z" fill="#d42b25"/><path d="M-7.4,-2.4 L-3.2,-2.4 L-3.2,1.2 Q-3.2,3.4 -5.3,3.8 Q-7.4,3.4 -7.4,1.2 Z" fill="#f6f6f6"/><circle cx="-5.3" cy="-1" r="0.7" fill="#283f94"/><circle cx="-5.3" cy="1.4" r="0.7" fill="#283f94"/><circle cx="-6.5" cy="0.2" r="0.7" fill="#283f94"/><circle cx="-4.1" cy="0.2" r="0.7" fill="#283f94"/></g><circle cx="0" cy="0" r="14.45" fill="none" stroke="#909090" stroke-opacity="0.7" stroke-width="0.6"/></g>
<text transform="translate(1210.52,106.9) scale(0.64,1)" text-anchor="middle" font-size="19.5" fill="#a5a5a5" stroke="#a5a5a5" stroke-width="0.3">RO</text>
<g transform="translate(1210.56,133.30)"><g clip-path="url(#fc)"><rect x="-14.70" y="-14.7" width="10.10" height="29.4" fill="#213f87"/><rect x="-4.90" y="-14.7" width="10.10" height="29.4" fill="#f6ce1c"/><rect x="4.90" y="-14.7" width="10.10" height="29.4" fill="#d12b36"/></g><circle cx="0" cy="0" r="14.45" fill="none" stroke="#909090" stroke-opacity="0.7" stroke-width="0.6"/></g>
<text transform="translate(1251.45,106.9) scale(0.64,1)" text-anchor="middle" font-size="19.5" fill="#a5a5a5" stroke="#a5a5a5" stroke-width="0.3">SI</text>
<g transform="translate(1251.38,133.30)"><g clip-path="url(#fc)"><rect x="-14.7" y="-14.70" width="29.4" height="10.59" fill="#f6f6f6"/><rect x="-14.7" y="-4.41" width="29.4" height="9.12" fill="#2f5cbf"/><rect x="-14.7" y="4.41" width="29.4" height="10.59" fill="#e32d2e"/><path d="M-11.6,-8.2 L-1.6,-8.2 L-1.6,-1.4 Q-1.6,2.4 -6.6,3.6 Q-11.6,2.4 -11.6,-1.4 Z" fill="#e32d2e"/><path d="M-11,-7.6 L-2.2,-7.6 L-2.2,-1.4 Q-2.2,1.8 -6.6,2.9 Q-11,1.8 -11,-1.4 Z" fill="#2b4fae"/><path d="M-10.6,-1.6 L-8.6,-4.4 L-7.4,-3.2 L-6.6,-5.4 L-5.8,-3.2 L-4.6,-4.4 L-2.6,-1.6 Q-3,1.6 -6.6,2.6 Q-10.2,1.6 -10.6,-1.6 Z" fill="#f6f6f6"/><circle cx="-9.2" cy="-6.2" r="0.6" fill="#f0d040"/><circle cx="-6.6" cy="-6.4" r="0.6" fill="#f0d040"/><circle cx="-4" cy="-6.2" r="0.6" fill="#f0d040"/></g><circle cx="0" cy="0" r="14.45" fill="none" stroke="#909090" stroke-opacity="0.7" stroke-width="0.6"/></g>
<text transform="translate(1292.38,106.9) scale(0.64,1)" text-anchor="middle" font-size="19.5" fill="#a5a5a5" stroke="#a5a5a5" stroke-width="0.3">SK</text>
<g transform="translate(1292.20,133.30)"><g clip-path="url(#fc)"><rect x="-14.7" y="-14.70" width="29.4" height="10.59" fill="#f6f6f6"/><rect x="-14.7" y="-4.41" width="29.4" height="9.12" fill="#2456a8"/><rect x="-14.7" y="4.41" width="29.4" height="10.59" fill="#dd2c30"/><path d="M-11.6,-6 L-1.5,-6 L-1.5,1.6 Q-1.5,5.6 -6.55,7 Q-11.6,5.6 -11.6,1.6 Z" fill="#f6f6f6"/><path d="M-10.8,-5.2 L-2.3,-5.2 L-2.3,1.6 Q-2.3,4.9 -6.55,6.1 Q-10.8,4.9 -10.8,1.6 Z" fill="#dd2c30"/><rect x="-7.2" y="-4.2" width="1.3" height="7.4" fill="#f6f6f6"/><rect x="-9" y="-2.6" width="4.9" height="1.1" fill="#f6f6f6"/><rect x="-8.5" y="-0.4" width="3.9" height="1.1" fill="#f6f6f6"/><path d="M-10.4,3.6 Q-8.4,2 -6.55,3.2 Q-4.7,2 -2.7,3.6 Q-3.4,5.4 -6.55,6 Q-9.7,5.4 -10.4,3.6 Z" fill="#2456a8"/></g><circle cx="0" cy="0" r="14.45" fill="none" stroke="#909090" stroke-opacity="0.7" stroke-width="0.6"/></g>
<text transform="translate(1333.31,106.9) scale(0.64,1)" text-anchor="middle" font-size="19.5" fill="#a5a5a5" stroke="#a5a5a5" stroke-width="0.3">FI</text>
<g transform="translate(1333.02,133.30)"><g clip-path="url(#fc)"><rect x="-14.7" y="-14.7" width="29.4" height="29.4" fill="#f5f5f7"/><rect x="-9.0" y="-14.7" width="5.0" height="29.4" fill="#233d7c"/><rect x="-14.7" y="-1.2000000000000002" width="29.4" height="4.4" fill="#233d7c"/></g><circle cx="0" cy="0" r="14.45" fill="none" stroke="#909090" stroke-opacity="0.7" stroke-width="0.6"/></g>
<text transform="translate(1374.24,106.9) scale(0.64,1)" text-anchor="middle" font-size="19.5" fill="#a5a5a5" stroke="#a5a5a5" stroke-width="0.3">SE</text>
<g transform="translate(1373.84,133.30)"><g clip-path="url(#fc)"><rect x="-14.7" y="-14.7" width="29.4" height="29.4" fill="#1f59a1"/><rect x="-8.75" y="-14.7" width="4.9" height="29.4" fill="#f1c22e"/><rect x="-14.7" y="-1.5" width="29.4" height="5.2" fill="#f1c22e"/></g><circle cx="0" cy="0" r="14.45" fill="none" stroke="#909090" stroke-opacity="0.7" stroke-width="0.6"/></g>
</svg></body></html>
